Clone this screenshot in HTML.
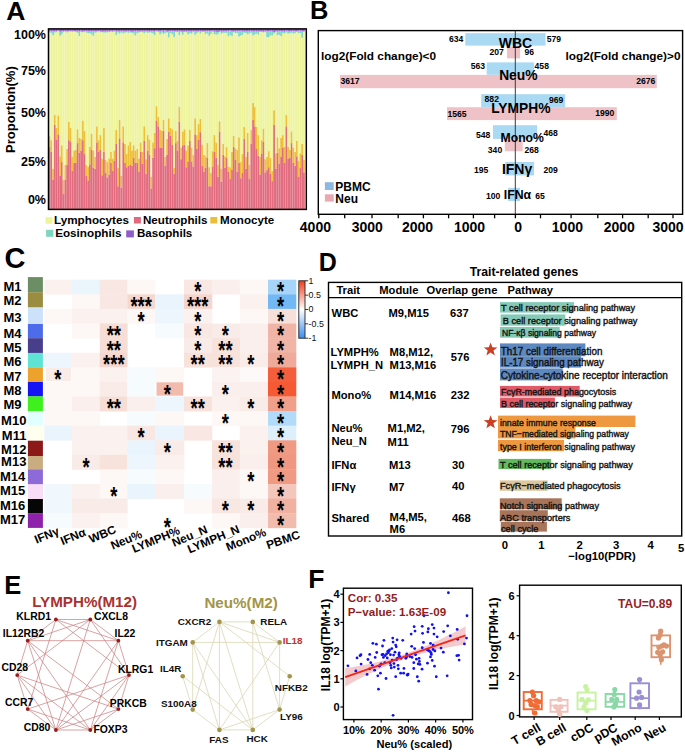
<!DOCTYPE html>
<html><head><meta charset="utf-8"><style>html,body{margin:0;padding:0;background:#fff;overflow:hidden;width:685px;height:752px;}svg{display:block;font-family:"Liberation Sans",sans-serif;}</style></head><body>
<svg width="685" height="752" viewBox="0 0 685 752">
<text x="6.20" y="20.00" font-size="26.5" font-weight="bold" text-anchor="start" fill="#000">A</text>
<rect x="48.70" y="146.76" width="1.80" height="62.64" fill="#E26A7E"/>
<rect x="48.70" y="136.24" width="1.80" height="10.52" fill="#EDBE37"/>
<rect x="48.70" y="32.33" width="1.80" height="103.92" fill="#EEF49C"/>
<rect x="48.70" y="31.35" width="1.80" height="0.97" fill="#7ED5CC"/>
<rect x="48.70" y="28.90" width="1.80" height="2.45" fill="#9A62C8"/>
<rect x="50.45" y="151.88" width="1.80" height="57.52" fill="#E26A7E"/>
<rect x="50.45" y="140.19" width="1.80" height="11.69" fill="#EDBE37"/>
<rect x="50.45" y="33.02" width="1.80" height="107.17" fill="#EEF49C"/>
<rect x="50.45" y="31.36" width="1.80" height="1.66" fill="#7ED5CC"/>
<rect x="50.45" y="28.90" width="1.80" height="2.46" fill="#9A62C8"/>
<rect x="52.21" y="179.64" width="1.80" height="29.76" fill="#E26A7E"/>
<rect x="52.21" y="168.68" width="1.80" height="10.96" fill="#EDBE37"/>
<rect x="52.21" y="35.28" width="1.80" height="133.40" fill="#EEF49C"/>
<rect x="52.21" y="31.33" width="1.80" height="3.96" fill="#7ED5CC"/>
<rect x="52.21" y="28.90" width="1.80" height="2.43" fill="#9A62C8"/>
<rect x="53.96" y="124.84" width="1.80" height="84.56" fill="#E26A7E"/>
<rect x="53.96" y="114.61" width="1.80" height="10.23" fill="#EDBE37"/>
<rect x="53.96" y="32.55" width="1.80" height="82.06" fill="#EEF49C"/>
<rect x="53.96" y="31.26" width="1.80" height="1.30" fill="#7ED5CC"/>
<rect x="53.96" y="28.90" width="1.80" height="2.36" fill="#9A62C8"/>
<rect x="55.72" y="139.46" width="1.80" height="69.94" fill="#E26A7E"/>
<rect x="55.72" y="127.77" width="1.80" height="11.69" fill="#EDBE37"/>
<rect x="55.72" y="32.28" width="1.80" height="95.48" fill="#EEF49C"/>
<rect x="55.72" y="31.06" width="1.80" height="1.22" fill="#7ED5CC"/>
<rect x="55.72" y="28.90" width="1.80" height="2.16" fill="#9A62C8"/>
<rect x="57.47" y="134.34" width="1.80" height="75.06" fill="#E26A7E"/>
<rect x="57.47" y="115.34" width="1.80" height="19.00" fill="#EDBE37"/>
<rect x="57.47" y="31.18" width="1.80" height="84.17" fill="#EEF49C"/>
<rect x="57.47" y="30.68" width="1.80" height="0.50" fill="#7ED5CC"/>
<rect x="57.47" y="28.90" width="1.80" height="1.78" fill="#9A62C8"/>
<rect x="59.22" y="175.99" width="1.80" height="33.41" fill="#E26A7E"/>
<rect x="59.22" y="156.26" width="1.80" height="19.73" fill="#EDBE37"/>
<rect x="59.22" y="35.77" width="1.80" height="120.49" fill="#EEF49C"/>
<rect x="59.22" y="31.70" width="1.80" height="4.08" fill="#7ED5CC"/>
<rect x="59.22" y="28.90" width="1.80" height="2.80" fill="#9A62C8"/>
<rect x="60.98" y="162.11" width="1.80" height="47.29" fill="#E26A7E"/>
<rect x="60.98" y="145.30" width="1.80" height="16.81" fill="#EDBE37"/>
<rect x="60.98" y="34.32" width="1.80" height="110.98" fill="#EEF49C"/>
<rect x="60.98" y="31.36" width="1.80" height="2.96" fill="#7ED5CC"/>
<rect x="60.98" y="28.90" width="1.80" height="2.46" fill="#9A62C8"/>
<rect x="62.73" y="193.53" width="1.80" height="15.87" fill="#E26A7E"/>
<rect x="62.73" y="180.08" width="1.80" height="13.44" fill="#EDBE37"/>
<rect x="62.73" y="32.25" width="1.80" height="147.83" fill="#EEF49C"/>
<rect x="62.73" y="31.03" width="1.80" height="1.23" fill="#7ED5CC"/>
<rect x="62.73" y="28.90" width="1.80" height="2.13" fill="#9A62C8"/>
<rect x="64.49" y="179.64" width="1.80" height="29.76" fill="#E26A7E"/>
<rect x="64.49" y="165.03" width="1.80" height="14.61" fill="#EDBE37"/>
<rect x="64.49" y="31.77" width="1.80" height="133.26" fill="#EEF49C"/>
<rect x="64.49" y="30.98" width="1.80" height="0.79" fill="#7ED5CC"/>
<rect x="64.49" y="28.90" width="1.80" height="2.08" fill="#9A62C8"/>
<rect x="66.24" y="165.03" width="1.80" height="44.37" fill="#E26A7E"/>
<rect x="66.24" y="148.96" width="1.80" height="16.07" fill="#EDBE37"/>
<rect x="66.24" y="32.50" width="1.80" height="116.45" fill="#EEF49C"/>
<rect x="66.24" y="31.24" width="1.80" height="1.26" fill="#7ED5CC"/>
<rect x="66.24" y="28.90" width="1.80" height="2.34" fill="#9A62C8"/>
<rect x="67.99" y="140.19" width="1.80" height="69.21" fill="#E26A7E"/>
<rect x="67.99" y="121.63" width="1.80" height="18.56" fill="#EDBE37"/>
<rect x="67.99" y="31.79" width="1.80" height="89.84" fill="#EEF49C"/>
<rect x="67.99" y="30.91" width="1.80" height="0.88" fill="#7ED5CC"/>
<rect x="67.99" y="28.90" width="1.80" height="2.01" fill="#9A62C8"/>
<rect x="69.75" y="141.65" width="1.80" height="67.75" fill="#E26A7E"/>
<rect x="69.75" y="127.77" width="1.80" height="13.88" fill="#EDBE37"/>
<rect x="69.75" y="31.66" width="1.80" height="96.11" fill="#EEF49C"/>
<rect x="69.75" y="31.03" width="1.80" height="0.63" fill="#7ED5CC"/>
<rect x="69.75" y="28.90" width="1.80" height="2.13" fill="#9A62C8"/>
<rect x="71.50" y="170.88" width="1.80" height="38.52" fill="#E26A7E"/>
<rect x="71.50" y="156.99" width="1.80" height="13.88" fill="#EDBE37"/>
<rect x="71.50" y="32.07" width="1.80" height="124.93" fill="#EEF49C"/>
<rect x="71.50" y="30.75" width="1.80" height="1.31" fill="#7ED5CC"/>
<rect x="71.50" y="28.90" width="1.80" height="1.85" fill="#9A62C8"/>
<rect x="73.26" y="162.84" width="1.80" height="46.56" fill="#E26A7E"/>
<rect x="73.26" y="150.42" width="1.80" height="12.42" fill="#EDBE37"/>
<rect x="73.26" y="31.59" width="1.80" height="118.83" fill="#EEF49C"/>
<rect x="73.26" y="31.03" width="1.80" height="0.56" fill="#7ED5CC"/>
<rect x="73.26" y="28.90" width="1.80" height="2.13" fill="#9A62C8"/>
<rect x="75.01" y="162.84" width="1.80" height="46.56" fill="#E26A7E"/>
<rect x="75.01" y="149.69" width="1.80" height="13.15" fill="#EDBE37"/>
<rect x="75.01" y="32.00" width="1.80" height="117.68" fill="#EEF49C"/>
<rect x="75.01" y="30.95" width="1.80" height="1.05" fill="#7ED5CC"/>
<rect x="75.01" y="28.90" width="1.80" height="2.05" fill="#9A62C8"/>
<rect x="76.76" y="143.11" width="1.80" height="66.29" fill="#E26A7E"/>
<rect x="76.76" y="129.23" width="1.80" height="13.88" fill="#EDBE37"/>
<rect x="76.76" y="32.89" width="1.80" height="96.33" fill="#EEF49C"/>
<rect x="76.76" y="31.41" width="1.80" height="1.48" fill="#7ED5CC"/>
<rect x="76.76" y="28.90" width="1.80" height="2.51" fill="#9A62C8"/>
<rect x="78.52" y="152.61" width="1.80" height="56.79" fill="#E26A7E"/>
<rect x="78.52" y="138.00" width="1.80" height="14.61" fill="#EDBE37"/>
<rect x="78.52" y="35.92" width="1.80" height="102.07" fill="#EEF49C"/>
<rect x="78.52" y="31.48" width="1.80" height="4.44" fill="#7ED5CC"/>
<rect x="78.52" y="28.90" width="1.80" height="2.58" fill="#9A62C8"/>
<rect x="80.27" y="150.42" width="1.80" height="58.98" fill="#E26A7E"/>
<rect x="80.27" y="138.73" width="1.80" height="11.69" fill="#EDBE37"/>
<rect x="80.27" y="31.97" width="1.80" height="106.76" fill="#EEF49C"/>
<rect x="80.27" y="30.81" width="1.80" height="1.16" fill="#7ED5CC"/>
<rect x="80.27" y="28.90" width="1.80" height="1.91" fill="#9A62C8"/>
<rect x="82.03" y="140.19" width="1.80" height="69.21" fill="#E26A7E"/>
<rect x="82.03" y="120.46" width="1.80" height="19.73" fill="#EDBE37"/>
<rect x="82.03" y="32.43" width="1.80" height="88.03" fill="#EEF49C"/>
<rect x="82.03" y="31.63" width="1.80" height="0.80" fill="#7ED5CC"/>
<rect x="82.03" y="28.90" width="1.80" height="2.73" fill="#9A62C8"/>
<rect x="83.78" y="154.07" width="1.80" height="55.33" fill="#E26A7E"/>
<rect x="83.78" y="130.69" width="1.80" height="23.38" fill="#EDBE37"/>
<rect x="83.78" y="31.66" width="1.80" height="99.03" fill="#EEF49C"/>
<rect x="83.78" y="31.04" width="1.80" height="0.62" fill="#7ED5CC"/>
<rect x="83.78" y="28.90" width="1.80" height="2.14" fill="#9A62C8"/>
<rect x="85.53" y="175.99" width="1.80" height="33.41" fill="#E26A7E"/>
<rect x="85.53" y="165.03" width="1.80" height="10.96" fill="#EDBE37"/>
<rect x="85.53" y="32.72" width="1.80" height="132.31" fill="#EEF49C"/>
<rect x="85.53" y="31.08" width="1.80" height="1.63" fill="#7ED5CC"/>
<rect x="85.53" y="28.90" width="1.80" height="2.18" fill="#9A62C8"/>
<rect x="87.29" y="180.37" width="1.80" height="29.03" fill="#E26A7E"/>
<rect x="87.29" y="166.49" width="1.80" height="13.88" fill="#EDBE37"/>
<rect x="87.29" y="33.20" width="1.80" height="133.30" fill="#EEF49C"/>
<rect x="87.29" y="31.37" width="1.80" height="1.82" fill="#7ED5CC"/>
<rect x="87.29" y="28.90" width="1.80" height="2.47" fill="#9A62C8"/>
<rect x="89.04" y="164.30" width="1.80" height="45.10" fill="#E26A7E"/>
<rect x="89.04" y="146.76" width="1.80" height="17.54" fill="#EDBE37"/>
<rect x="89.04" y="33.20" width="1.80" height="113.56" fill="#EEF49C"/>
<rect x="89.04" y="31.18" width="1.80" height="2.03" fill="#7ED5CC"/>
<rect x="89.04" y="28.90" width="1.80" height="2.28" fill="#9A62C8"/>
<rect x="90.80" y="149.69" width="1.80" height="59.71" fill="#E26A7E"/>
<rect x="90.80" y="133.61" width="1.80" height="16.07" fill="#EDBE37"/>
<rect x="90.80" y="34.42" width="1.80" height="99.19" fill="#EEF49C"/>
<rect x="90.80" y="31.49" width="1.80" height="2.93" fill="#7ED5CC"/>
<rect x="90.80" y="28.90" width="1.80" height="2.59" fill="#9A62C8"/>
<rect x="92.55" y="167.95" width="1.80" height="41.45" fill="#E26A7E"/>
<rect x="92.55" y="150.42" width="1.80" height="17.54" fill="#EDBE37"/>
<rect x="92.55" y="35.86" width="1.80" height="114.56" fill="#EEF49C"/>
<rect x="92.55" y="31.33" width="1.80" height="4.53" fill="#7ED5CC"/>
<rect x="92.55" y="28.90" width="1.80" height="2.43" fill="#9A62C8"/>
<rect x="94.30" y="168.68" width="1.80" height="40.72" fill="#E26A7E"/>
<rect x="94.30" y="156.99" width="1.80" height="11.69" fill="#EDBE37"/>
<rect x="94.30" y="32.72" width="1.80" height="124.27" fill="#EEF49C"/>
<rect x="94.30" y="31.36" width="1.80" height="1.36" fill="#7ED5CC"/>
<rect x="94.30" y="28.90" width="1.80" height="2.46" fill="#9A62C8"/>
<rect x="96.06" y="142.38" width="1.80" height="67.02" fill="#E26A7E"/>
<rect x="96.06" y="126.30" width="1.80" height="16.07" fill="#EDBE37"/>
<rect x="96.06" y="32.35" width="1.80" height="93.95" fill="#EEF49C"/>
<rect x="96.06" y="31.11" width="1.80" height="1.24" fill="#7ED5CC"/>
<rect x="96.06" y="28.90" width="1.80" height="2.21" fill="#9A62C8"/>
<rect x="97.81" y="151.88" width="1.80" height="57.52" fill="#E26A7E"/>
<rect x="97.81" y="140.19" width="1.80" height="11.69" fill="#EDBE37"/>
<rect x="97.81" y="31.51" width="1.80" height="108.68" fill="#EEF49C"/>
<rect x="97.81" y="31.01" width="1.80" height="0.50" fill="#7ED5CC"/>
<rect x="97.81" y="28.90" width="1.80" height="2.11" fill="#9A62C8"/>
<rect x="99.57" y="149.69" width="1.80" height="59.71" fill="#E26A7E"/>
<rect x="99.57" y="135.07" width="1.80" height="14.61" fill="#EDBE37"/>
<rect x="99.57" y="32.38" width="1.80" height="102.69" fill="#EEF49C"/>
<rect x="99.57" y="31.02" width="1.80" height="1.37" fill="#7ED5CC"/>
<rect x="99.57" y="28.90" width="1.80" height="2.12" fill="#9A62C8"/>
<rect x="101.32" y="175.26" width="1.80" height="34.14" fill="#E26A7E"/>
<rect x="101.32" y="158.45" width="1.80" height="16.81" fill="#EDBE37"/>
<rect x="101.32" y="32.18" width="1.80" height="126.27" fill="#EEF49C"/>
<rect x="101.32" y="31.68" width="1.80" height="0.50" fill="#7ED5CC"/>
<rect x="101.32" y="28.90" width="1.80" height="2.78" fill="#9A62C8"/>
<rect x="103.07" y="151.88" width="1.80" height="57.52" fill="#E26A7E"/>
<rect x="103.07" y="127.77" width="1.80" height="24.11" fill="#EDBE37"/>
<rect x="103.07" y="32.63" width="1.80" height="95.13" fill="#EEF49C"/>
<rect x="103.07" y="31.35" width="1.80" height="1.28" fill="#7ED5CC"/>
<rect x="103.07" y="28.90" width="1.80" height="2.45" fill="#9A62C8"/>
<rect x="104.83" y="173.07" width="1.80" height="36.33" fill="#E26A7E"/>
<rect x="104.83" y="159.92" width="1.80" height="13.15" fill="#EDBE37"/>
<rect x="104.83" y="32.70" width="1.80" height="127.21" fill="#EEF49C"/>
<rect x="104.83" y="31.54" width="1.80" height="1.16" fill="#7ED5CC"/>
<rect x="104.83" y="28.90" width="1.80" height="2.64" fill="#9A62C8"/>
<rect x="106.58" y="177.45" width="1.80" height="31.95" fill="#E26A7E"/>
<rect x="106.58" y="162.11" width="1.80" height="15.34" fill="#EDBE37"/>
<rect x="106.58" y="32.32" width="1.80" height="129.78" fill="#EEF49C"/>
<rect x="106.58" y="31.23" width="1.80" height="1.10" fill="#7ED5CC"/>
<rect x="106.58" y="28.90" width="1.80" height="2.33" fill="#9A62C8"/>
<rect x="108.34" y="174.53" width="1.80" height="34.87" fill="#E26A7E"/>
<rect x="108.34" y="158.45" width="1.80" height="16.07" fill="#EDBE37"/>
<rect x="108.34" y="32.14" width="1.80" height="126.31" fill="#EEF49C"/>
<rect x="108.34" y="31.48" width="1.80" height="0.66" fill="#7ED5CC"/>
<rect x="108.34" y="28.90" width="1.80" height="2.58" fill="#9A62C8"/>
<rect x="110.09" y="162.84" width="1.80" height="46.56" fill="#E26A7E"/>
<rect x="110.09" y="151.88" width="1.80" height="10.96" fill="#EDBE37"/>
<rect x="110.09" y="31.74" width="1.80" height="120.13" fill="#EEF49C"/>
<rect x="110.09" y="30.86" width="1.80" height="0.88" fill="#7ED5CC"/>
<rect x="110.09" y="28.90" width="1.80" height="1.96" fill="#9A62C8"/>
<rect x="111.84" y="170.88" width="1.80" height="38.52" fill="#E26A7E"/>
<rect x="111.84" y="158.45" width="1.80" height="12.42" fill="#EDBE37"/>
<rect x="111.84" y="32.14" width="1.80" height="126.32" fill="#EEF49C"/>
<rect x="111.84" y="31.11" width="1.80" height="1.03" fill="#7ED5CC"/>
<rect x="111.84" y="28.90" width="1.80" height="2.21" fill="#9A62C8"/>
<rect x="113.60" y="160.65" width="1.80" height="48.75" fill="#E26A7E"/>
<rect x="113.60" y="150.42" width="1.80" height="10.23" fill="#EDBE37"/>
<rect x="113.60" y="31.89" width="1.80" height="118.53" fill="#EEF49C"/>
<rect x="113.60" y="30.60" width="1.80" height="1.29" fill="#7ED5CC"/>
<rect x="113.60" y="28.90" width="1.80" height="1.70" fill="#9A62C8"/>
<rect x="115.35" y="143.84" width="1.80" height="65.56" fill="#E26A7E"/>
<rect x="115.35" y="129.96" width="1.80" height="13.88" fill="#EDBE37"/>
<rect x="115.35" y="35.00" width="1.80" height="94.96" fill="#EEF49C"/>
<rect x="115.35" y="31.39" width="1.80" height="3.61" fill="#7ED5CC"/>
<rect x="115.35" y="28.90" width="1.80" height="2.49" fill="#9A62C8"/>
<rect x="117.11" y="186.22" width="1.80" height="23.18" fill="#E26A7E"/>
<rect x="117.11" y="167.95" width="1.80" height="18.27" fill="#EDBE37"/>
<rect x="117.11" y="32.52" width="1.80" height="135.44" fill="#EEF49C"/>
<rect x="117.11" y="31.24" width="1.80" height="1.27" fill="#7ED5CC"/>
<rect x="117.11" y="28.90" width="1.80" height="2.34" fill="#9A62C8"/>
<rect x="118.86" y="138.29" width="1.80" height="71.11" fill="#E26A7E"/>
<rect x="118.86" y="119.73" width="1.80" height="18.56" fill="#EDBE37"/>
<rect x="118.86" y="33.77" width="1.80" height="85.96" fill="#EEF49C"/>
<rect x="118.86" y="31.43" width="1.80" height="2.34" fill="#7ED5CC"/>
<rect x="118.86" y="28.90" width="1.80" height="2.53" fill="#9A62C8"/>
<rect x="120.61" y="187.68" width="1.80" height="21.72" fill="#E26A7E"/>
<rect x="120.61" y="175.99" width="1.80" height="11.69" fill="#EDBE37"/>
<rect x="120.61" y="32.55" width="1.80" height="143.44" fill="#EEF49C"/>
<rect x="120.61" y="31.31" width="1.80" height="1.23" fill="#7ED5CC"/>
<rect x="120.61" y="28.90" width="1.80" height="2.41" fill="#9A62C8"/>
<rect x="122.37" y="142.38" width="1.80" height="67.02" fill="#E26A7E"/>
<rect x="122.37" y="126.30" width="1.80" height="16.07" fill="#EDBE37"/>
<rect x="122.37" y="33.40" width="1.80" height="92.90" fill="#EEF49C"/>
<rect x="122.37" y="31.30" width="1.80" height="2.11" fill="#7ED5CC"/>
<rect x="122.37" y="28.90" width="1.80" height="2.40" fill="#9A62C8"/>
<rect x="124.12" y="162.84" width="1.80" height="46.56" fill="#E26A7E"/>
<rect x="124.12" y="143.84" width="1.80" height="19.00" fill="#EDBE37"/>
<rect x="124.12" y="32.71" width="1.80" height="111.13" fill="#EEF49C"/>
<rect x="124.12" y="31.38" width="1.80" height="1.33" fill="#7ED5CC"/>
<rect x="124.12" y="28.90" width="1.80" height="2.48" fill="#9A62C8"/>
<rect x="125.88" y="167.22" width="1.80" height="42.18" fill="#E26A7E"/>
<rect x="125.88" y="154.07" width="1.80" height="13.15" fill="#EDBE37"/>
<rect x="125.88" y="32.25" width="1.80" height="121.82" fill="#EEF49C"/>
<rect x="125.88" y="31.32" width="1.80" height="0.93" fill="#7ED5CC"/>
<rect x="125.88" y="28.90" width="1.80" height="2.42" fill="#9A62C8"/>
<rect x="127.63" y="165.76" width="1.80" height="43.64" fill="#E26A7E"/>
<rect x="127.63" y="145.30" width="1.80" height="20.46" fill="#EDBE37"/>
<rect x="127.63" y="32.84" width="1.80" height="112.46" fill="#EEF49C"/>
<rect x="127.63" y="31.19" width="1.80" height="1.66" fill="#7ED5CC"/>
<rect x="127.63" y="28.90" width="1.80" height="2.29" fill="#9A62C8"/>
<rect x="129.38" y="165.03" width="1.80" height="44.37" fill="#E26A7E"/>
<rect x="129.38" y="141.65" width="1.80" height="23.38" fill="#EDBE37"/>
<rect x="129.38" y="32.57" width="1.80" height="109.08" fill="#EEF49C"/>
<rect x="129.38" y="31.27" width="1.80" height="1.30" fill="#7ED5CC"/>
<rect x="129.38" y="28.90" width="1.80" height="2.37" fill="#9A62C8"/>
<rect x="131.14" y="165.76" width="1.80" height="43.64" fill="#E26A7E"/>
<rect x="131.14" y="150.42" width="1.80" height="15.34" fill="#EDBE37"/>
<rect x="131.14" y="32.77" width="1.80" height="117.64" fill="#EEF49C"/>
<rect x="131.14" y="31.76" width="1.80" height="1.01" fill="#7ED5CC"/>
<rect x="131.14" y="28.90" width="1.80" height="2.86" fill="#9A62C8"/>
<rect x="132.89" y="157.72" width="1.80" height="51.68" fill="#E26A7E"/>
<rect x="132.89" y="145.30" width="1.80" height="12.42" fill="#EDBE37"/>
<rect x="132.89" y="33.62" width="1.80" height="111.68" fill="#EEF49C"/>
<rect x="132.89" y="31.31" width="1.80" height="2.32" fill="#7ED5CC"/>
<rect x="132.89" y="28.90" width="1.80" height="2.41" fill="#9A62C8"/>
<rect x="134.65" y="162.84" width="1.80" height="46.56" fill="#E26A7E"/>
<rect x="134.65" y="150.42" width="1.80" height="12.42" fill="#EDBE37"/>
<rect x="134.65" y="35.56" width="1.80" height="114.85" fill="#EEF49C"/>
<rect x="134.65" y="31.50" width="1.80" height="4.06" fill="#7ED5CC"/>
<rect x="134.65" y="28.90" width="1.80" height="2.60" fill="#9A62C8"/>
<rect x="136.40" y="162.84" width="1.80" height="46.56" fill="#E26A7E"/>
<rect x="136.40" y="148.96" width="1.80" height="13.88" fill="#EDBE37"/>
<rect x="136.40" y="33.21" width="1.80" height="115.75" fill="#EEF49C"/>
<rect x="136.40" y="31.12" width="1.80" height="2.09" fill="#7ED5CC"/>
<rect x="136.40" y="28.90" width="1.80" height="2.22" fill="#9A62C8"/>
<rect x="138.15" y="171.61" width="1.80" height="37.79" fill="#E26A7E"/>
<rect x="138.15" y="158.45" width="1.80" height="13.15" fill="#EDBE37"/>
<rect x="138.15" y="32.55" width="1.80" height="125.90" fill="#EEF49C"/>
<rect x="138.15" y="31.49" width="1.80" height="1.07" fill="#7ED5CC"/>
<rect x="138.15" y="28.90" width="1.80" height="2.59" fill="#9A62C8"/>
<rect x="139.91" y="151.88" width="1.80" height="57.52" fill="#E26A7E"/>
<rect x="139.91" y="142.38" width="1.80" height="9.50" fill="#EDBE37"/>
<rect x="139.91" y="32.02" width="1.80" height="110.36" fill="#EEF49C"/>
<rect x="139.91" y="30.83" width="1.80" height="1.18" fill="#7ED5CC"/>
<rect x="139.91" y="28.90" width="1.80" height="1.93" fill="#9A62C8"/>
<rect x="141.66" y="163.57" width="1.80" height="45.83" fill="#E26A7E"/>
<rect x="141.66" y="151.88" width="1.80" height="11.69" fill="#EDBE37"/>
<rect x="141.66" y="32.32" width="1.80" height="119.56" fill="#EEF49C"/>
<rect x="141.66" y="31.39" width="1.80" height="0.93" fill="#7ED5CC"/>
<rect x="141.66" y="28.90" width="1.80" height="2.49" fill="#9A62C8"/>
<rect x="143.42" y="140.92" width="1.80" height="68.48" fill="#E26A7E"/>
<rect x="143.42" y="126.30" width="1.80" height="14.61" fill="#EDBE37"/>
<rect x="143.42" y="33.22" width="1.80" height="93.09" fill="#EEF49C"/>
<rect x="143.42" y="31.14" width="1.80" height="2.07" fill="#7ED5CC"/>
<rect x="143.42" y="28.90" width="1.80" height="2.24" fill="#9A62C8"/>
<rect x="145.17" y="173.80" width="1.80" height="35.60" fill="#E26A7E"/>
<rect x="145.17" y="159.18" width="1.80" height="14.61" fill="#EDBE37"/>
<rect x="145.17" y="32.19" width="1.80" height="126.99" fill="#EEF49C"/>
<rect x="145.17" y="30.75" width="1.80" height="1.44" fill="#7ED5CC"/>
<rect x="145.17" y="28.90" width="1.80" height="1.85" fill="#9A62C8"/>
<rect x="146.92" y="150.42" width="1.80" height="58.98" fill="#E26A7E"/>
<rect x="146.92" y="135.07" width="1.80" height="15.34" fill="#EDBE37"/>
<rect x="146.92" y="32.89" width="1.80" height="102.19" fill="#EEF49C"/>
<rect x="146.92" y="31.17" width="1.80" height="1.72" fill="#7ED5CC"/>
<rect x="146.92" y="28.90" width="1.80" height="2.27" fill="#9A62C8"/>
<rect x="148.68" y="154.80" width="1.80" height="54.60" fill="#E26A7E"/>
<rect x="148.68" y="139.46" width="1.80" height="15.34" fill="#EDBE37"/>
<rect x="148.68" y="32.46" width="1.80" height="107.00" fill="#EEF49C"/>
<rect x="148.68" y="31.43" width="1.80" height="1.03" fill="#7ED5CC"/>
<rect x="148.68" y="28.90" width="1.80" height="2.53" fill="#9A62C8"/>
<rect x="150.43" y="188.41" width="1.80" height="20.99" fill="#E26A7E"/>
<rect x="150.43" y="176.72" width="1.80" height="11.69" fill="#EDBE37"/>
<rect x="150.43" y="32.74" width="1.80" height="143.98" fill="#EEF49C"/>
<rect x="150.43" y="31.11" width="1.80" height="1.62" fill="#7ED5CC"/>
<rect x="150.43" y="28.90" width="1.80" height="2.21" fill="#9A62C8"/>
<rect x="152.19" y="157.72" width="1.80" height="51.68" fill="#E26A7E"/>
<rect x="152.19" y="142.38" width="1.80" height="15.34" fill="#EDBE37"/>
<rect x="152.19" y="33.49" width="1.80" height="108.89" fill="#EEF49C"/>
<rect x="152.19" y="31.14" width="1.80" height="2.34" fill="#7ED5CC"/>
<rect x="152.19" y="28.90" width="1.80" height="2.24" fill="#9A62C8"/>
<rect x="153.94" y="148.22" width="1.80" height="61.18" fill="#E26A7E"/>
<rect x="153.94" y="132.88" width="1.80" height="15.34" fill="#EDBE37"/>
<rect x="153.94" y="35.05" width="1.80" height="97.83" fill="#EEF49C"/>
<rect x="153.94" y="31.41" width="1.80" height="3.63" fill="#7ED5CC"/>
<rect x="153.94" y="28.90" width="1.80" height="2.51" fill="#9A62C8"/>
<rect x="155.69" y="120.46" width="1.80" height="88.94" fill="#E26A7E"/>
<rect x="155.69" y="106.14" width="1.80" height="14.32" fill="#EDBE37"/>
<rect x="155.69" y="31.55" width="1.80" height="74.59" fill="#EEF49C"/>
<rect x="155.69" y="30.75" width="1.80" height="0.80" fill="#7ED5CC"/>
<rect x="155.69" y="28.90" width="1.80" height="1.85" fill="#9A62C8"/>
<rect x="157.45" y="126.30" width="1.80" height="83.10" fill="#E26A7E"/>
<rect x="157.45" y="116.81" width="1.80" height="9.50" fill="#EDBE37"/>
<rect x="157.45" y="32.06" width="1.80" height="84.75" fill="#EEF49C"/>
<rect x="157.45" y="31.26" width="1.80" height="0.80" fill="#7ED5CC"/>
<rect x="157.45" y="28.90" width="1.80" height="2.36" fill="#9A62C8"/>
<rect x="159.20" y="147.49" width="1.80" height="61.91" fill="#E26A7E"/>
<rect x="159.20" y="129.96" width="1.80" height="17.54" fill="#EDBE37"/>
<rect x="159.20" y="34.36" width="1.80" height="95.59" fill="#EEF49C"/>
<rect x="159.20" y="31.42" width="1.80" height="2.94" fill="#7ED5CC"/>
<rect x="159.20" y="28.90" width="1.80" height="2.52" fill="#9A62C8"/>
<rect x="160.96" y="147.49" width="1.80" height="61.91" fill="#E26A7E"/>
<rect x="160.96" y="130.69" width="1.80" height="16.81" fill="#EDBE37"/>
<rect x="160.96" y="32.81" width="1.80" height="97.88" fill="#EEF49C"/>
<rect x="160.96" y="30.71" width="1.80" height="2.10" fill="#7ED5CC"/>
<rect x="160.96" y="28.90" width="1.80" height="1.81" fill="#9A62C8"/>
<rect x="162.71" y="130.69" width="1.80" height="78.71" fill="#E26A7E"/>
<rect x="162.71" y="119.73" width="1.80" height="10.96" fill="#EDBE37"/>
<rect x="162.71" y="34.17" width="1.80" height="85.56" fill="#EEF49C"/>
<rect x="162.71" y="31.68" width="1.80" height="2.49" fill="#7ED5CC"/>
<rect x="162.71" y="28.90" width="1.80" height="2.78" fill="#9A62C8"/>
<rect x="164.46" y="165.76" width="1.80" height="43.64" fill="#E26A7E"/>
<rect x="164.46" y="156.99" width="1.80" height="8.77" fill="#EDBE37"/>
<rect x="164.46" y="33.15" width="1.80" height="123.84" fill="#EEF49C"/>
<rect x="164.46" y="30.60" width="1.80" height="2.55" fill="#7ED5CC"/>
<rect x="164.46" y="28.90" width="1.80" height="1.70" fill="#9A62C8"/>
<rect x="166.22" y="154.80" width="1.80" height="54.60" fill="#E26A7E"/>
<rect x="166.22" y="138.73" width="1.80" height="16.07" fill="#EDBE37"/>
<rect x="166.22" y="32.42" width="1.80" height="106.30" fill="#EEF49C"/>
<rect x="166.22" y="31.62" width="1.80" height="0.80" fill="#7ED5CC"/>
<rect x="166.22" y="28.90" width="1.80" height="2.72" fill="#9A62C8"/>
<rect x="167.97" y="131.42" width="1.80" height="77.98" fill="#E26A7E"/>
<rect x="167.97" y="118.27" width="1.80" height="13.15" fill="#EDBE37"/>
<rect x="167.97" y="37.53" width="1.80" height="80.74" fill="#EEF49C"/>
<rect x="167.97" y="31.34" width="1.80" height="6.19" fill="#7ED5CC"/>
<rect x="167.97" y="28.90" width="1.80" height="2.44" fill="#9A62C8"/>
<rect x="169.73" y="135.80" width="1.80" height="73.60" fill="#E26A7E"/>
<rect x="169.73" y="127.77" width="1.80" height="8.04" fill="#EDBE37"/>
<rect x="169.73" y="33.02" width="1.80" height="94.75" fill="#EEF49C"/>
<rect x="169.73" y="31.04" width="1.80" height="1.98" fill="#7ED5CC"/>
<rect x="169.73" y="28.90" width="1.80" height="2.14" fill="#9A62C8"/>
<rect x="171.48" y="144.57" width="1.80" height="64.83" fill="#E26A7E"/>
<rect x="171.48" y="129.23" width="1.80" height="15.34" fill="#EDBE37"/>
<rect x="171.48" y="34.25" width="1.80" height="94.97" fill="#EEF49C"/>
<rect x="171.48" y="31.15" width="1.80" height="3.11" fill="#7ED5CC"/>
<rect x="171.48" y="28.90" width="1.80" height="2.25" fill="#9A62C8"/>
<rect x="173.23" y="173.80" width="1.80" height="35.60" fill="#E26A7E"/>
<rect x="173.23" y="167.95" width="1.80" height="5.85" fill="#EDBE37"/>
<rect x="173.23" y="36.90" width="1.80" height="131.06" fill="#EEF49C"/>
<rect x="173.23" y="31.15" width="1.80" height="5.74" fill="#7ED5CC"/>
<rect x="173.23" y="28.90" width="1.80" height="2.25" fill="#9A62C8"/>
<rect x="174.99" y="143.11" width="1.80" height="66.29" fill="#E26A7E"/>
<rect x="174.99" y="130.69" width="1.80" height="12.42" fill="#EDBE37"/>
<rect x="174.99" y="32.05" width="1.80" height="98.63" fill="#EEF49C"/>
<rect x="174.99" y="30.90" width="1.80" height="1.15" fill="#7ED5CC"/>
<rect x="174.99" y="28.90" width="1.80" height="2.00" fill="#9A62C8"/>
<rect x="176.74" y="150.42" width="1.80" height="58.98" fill="#E26A7E"/>
<rect x="176.74" y="140.92" width="1.80" height="9.50" fill="#EDBE37"/>
<rect x="176.74" y="32.25" width="1.80" height="108.67" fill="#EEF49C"/>
<rect x="176.74" y="31.45" width="1.80" height="0.80" fill="#7ED5CC"/>
<rect x="176.74" y="28.90" width="1.80" height="2.55" fill="#9A62C8"/>
<rect x="178.50" y="121.92" width="1.80" height="87.48" fill="#E26A7E"/>
<rect x="178.50" y="106.58" width="1.80" height="15.34" fill="#EDBE37"/>
<rect x="178.50" y="35.23" width="1.80" height="71.35" fill="#EEF49C"/>
<rect x="178.50" y="31.42" width="1.80" height="3.81" fill="#7ED5CC"/>
<rect x="178.50" y="28.90" width="1.80" height="2.52" fill="#9A62C8"/>
<rect x="180.25" y="159.18" width="1.80" height="50.22" fill="#E26A7E"/>
<rect x="180.25" y="147.49" width="1.80" height="11.69" fill="#EDBE37"/>
<rect x="180.25" y="32.28" width="1.80" height="115.21" fill="#EEF49C"/>
<rect x="180.25" y="31.08" width="1.80" height="1.20" fill="#7ED5CC"/>
<rect x="180.25" y="28.90" width="1.80" height="2.18" fill="#9A62C8"/>
<rect x="182.00" y="145.30" width="1.80" height="64.10" fill="#E26A7E"/>
<rect x="182.00" y="131.42" width="1.80" height="13.88" fill="#EDBE37"/>
<rect x="182.00" y="34.83" width="1.80" height="96.59" fill="#EEF49C"/>
<rect x="182.00" y="31.68" width="1.80" height="3.14" fill="#7ED5CC"/>
<rect x="182.00" y="28.90" width="1.80" height="2.78" fill="#9A62C8"/>
<rect x="183.76" y="144.57" width="1.80" height="64.83" fill="#E26A7E"/>
<rect x="183.76" y="129.23" width="1.80" height="15.34" fill="#EDBE37"/>
<rect x="183.76" y="32.10" width="1.80" height="97.12" fill="#EEF49C"/>
<rect x="183.76" y="31.30" width="1.80" height="0.80" fill="#7ED5CC"/>
<rect x="183.76" y="28.90" width="1.80" height="2.40" fill="#9A62C8"/>
<rect x="185.51" y="167.22" width="1.80" height="42.18" fill="#E26A7E"/>
<rect x="185.51" y="150.42" width="1.80" height="16.81" fill="#EDBE37"/>
<rect x="185.51" y="32.32" width="1.80" height="118.10" fill="#EEF49C"/>
<rect x="185.51" y="31.52" width="1.80" height="0.80" fill="#7ED5CC"/>
<rect x="185.51" y="28.90" width="1.80" height="2.62" fill="#9A62C8"/>
<rect x="187.27" y="161.38" width="1.80" height="48.02" fill="#E26A7E"/>
<rect x="187.27" y="145.30" width="1.80" height="16.07" fill="#EDBE37"/>
<rect x="187.27" y="34.47" width="1.80" height="110.83" fill="#EEF49C"/>
<rect x="187.27" y="31.13" width="1.80" height="3.34" fill="#7ED5CC"/>
<rect x="187.27" y="28.90" width="1.80" height="2.23" fill="#9A62C8"/>
<rect x="189.02" y="140.92" width="1.80" height="68.48" fill="#E26A7E"/>
<rect x="189.02" y="129.96" width="1.80" height="10.96" fill="#EDBE37"/>
<rect x="189.02" y="33.06" width="1.80" height="96.90" fill="#EEF49C"/>
<rect x="189.02" y="31.22" width="1.80" height="1.83" fill="#7ED5CC"/>
<rect x="189.02" y="28.90" width="1.80" height="2.32" fill="#9A62C8"/>
<rect x="190.77" y="161.38" width="1.80" height="48.02" fill="#E26A7E"/>
<rect x="190.77" y="147.49" width="1.80" height="13.88" fill="#EDBE37"/>
<rect x="190.77" y="33.78" width="1.80" height="113.72" fill="#EEF49C"/>
<rect x="190.77" y="31.50" width="1.80" height="2.28" fill="#7ED5CC"/>
<rect x="190.77" y="28.90" width="1.80" height="2.60" fill="#9A62C8"/>
<rect x="192.53" y="166.49" width="1.80" height="42.91" fill="#E26A7E"/>
<rect x="192.53" y="154.80" width="1.80" height="11.69" fill="#EDBE37"/>
<rect x="192.53" y="32.16" width="1.80" height="122.64" fill="#EEF49C"/>
<rect x="192.53" y="31.11" width="1.80" height="1.05" fill="#7ED5CC"/>
<rect x="192.53" y="28.90" width="1.80" height="2.21" fill="#9A62C8"/>
<rect x="194.28" y="134.34" width="1.80" height="75.06" fill="#E26A7E"/>
<rect x="194.28" y="118.27" width="1.80" height="16.07" fill="#EDBE37"/>
<rect x="194.28" y="34.78" width="1.80" height="83.49" fill="#EEF49C"/>
<rect x="194.28" y="31.02" width="1.80" height="3.76" fill="#7ED5CC"/>
<rect x="194.28" y="28.90" width="1.80" height="2.12" fill="#9A62C8"/>
<rect x="196.04" y="148.96" width="1.80" height="60.44" fill="#E26A7E"/>
<rect x="196.04" y="135.07" width="1.80" height="13.88" fill="#EDBE37"/>
<rect x="196.04" y="33.25" width="1.80" height="101.82" fill="#EEF49C"/>
<rect x="196.04" y="31.44" width="1.80" height="1.81" fill="#7ED5CC"/>
<rect x="196.04" y="28.90" width="1.80" height="2.54" fill="#9A62C8"/>
<rect x="197.79" y="139.46" width="1.80" height="69.94" fill="#E26A7E"/>
<rect x="197.79" y="124.11" width="1.80" height="15.34" fill="#EDBE37"/>
<rect x="197.79" y="31.98" width="1.80" height="92.13" fill="#EEF49C"/>
<rect x="197.79" y="31.18" width="1.80" height="0.80" fill="#7ED5CC"/>
<rect x="197.79" y="28.90" width="1.80" height="2.28" fill="#9A62C8"/>
<rect x="199.54" y="132.15" width="1.80" height="77.25" fill="#E26A7E"/>
<rect x="199.54" y="118.71" width="1.80" height="13.44" fill="#EDBE37"/>
<rect x="199.54" y="33.66" width="1.80" height="85.04" fill="#EEF49C"/>
<rect x="199.54" y="31.03" width="1.80" height="2.63" fill="#7ED5CC"/>
<rect x="199.54" y="28.90" width="1.80" height="2.13" fill="#9A62C8"/>
<rect x="201.30" y="165.76" width="1.80" height="43.64" fill="#E26A7E"/>
<rect x="201.30" y="144.57" width="1.80" height="21.19" fill="#EDBE37"/>
<rect x="201.30" y="31.99" width="1.80" height="112.58" fill="#EEF49C"/>
<rect x="201.30" y="31.19" width="1.80" height="0.80" fill="#7ED5CC"/>
<rect x="201.30" y="28.90" width="1.80" height="2.29" fill="#9A62C8"/>
<rect x="203.05" y="171.61" width="1.80" height="37.79" fill="#E26A7E"/>
<rect x="203.05" y="154.80" width="1.80" height="16.81" fill="#EDBE37"/>
<rect x="203.05" y="32.11" width="1.80" height="122.69" fill="#EEF49C"/>
<rect x="203.05" y="31.31" width="1.80" height="0.80" fill="#7ED5CC"/>
<rect x="203.05" y="28.90" width="1.80" height="2.41" fill="#9A62C8"/>
<rect x="204.81" y="167.95" width="1.80" height="41.45" fill="#E26A7E"/>
<rect x="204.81" y="156.26" width="1.80" height="11.69" fill="#EDBE37"/>
<rect x="204.81" y="34.13" width="1.80" height="122.13" fill="#EEF49C"/>
<rect x="204.81" y="31.03" width="1.80" height="3.10" fill="#7ED5CC"/>
<rect x="204.81" y="28.90" width="1.80" height="2.13" fill="#9A62C8"/>
<rect x="206.56" y="157.72" width="1.80" height="51.68" fill="#E26A7E"/>
<rect x="206.56" y="143.11" width="1.80" height="14.61" fill="#EDBE37"/>
<rect x="206.56" y="33.57" width="1.80" height="109.54" fill="#EEF49C"/>
<rect x="206.56" y="31.12" width="1.80" height="2.45" fill="#7ED5CC"/>
<rect x="206.56" y="28.90" width="1.80" height="2.22" fill="#9A62C8"/>
<rect x="208.31" y="186.22" width="1.80" height="23.18" fill="#E26A7E"/>
<rect x="208.31" y="167.22" width="1.80" height="19.00" fill="#EDBE37"/>
<rect x="208.31" y="35.84" width="1.80" height="131.38" fill="#EEF49C"/>
<rect x="208.31" y="31.00" width="1.80" height="4.84" fill="#7ED5CC"/>
<rect x="208.31" y="28.90" width="1.80" height="2.10" fill="#9A62C8"/>
<rect x="210.07" y="186.22" width="1.80" height="23.18" fill="#E26A7E"/>
<rect x="210.07" y="173.07" width="1.80" height="13.15" fill="#EDBE37"/>
<rect x="210.07" y="33.97" width="1.80" height="139.10" fill="#EEF49C"/>
<rect x="210.07" y="31.24" width="1.80" height="2.73" fill="#7ED5CC"/>
<rect x="210.07" y="28.90" width="1.80" height="2.34" fill="#9A62C8"/>
<rect x="211.82" y="166.49" width="1.80" height="42.91" fill="#E26A7E"/>
<rect x="211.82" y="151.15" width="1.80" height="15.34" fill="#EDBE37"/>
<rect x="211.82" y="31.78" width="1.80" height="119.37" fill="#EEF49C"/>
<rect x="211.82" y="30.74" width="1.80" height="1.04" fill="#7ED5CC"/>
<rect x="211.82" y="28.90" width="1.80" height="1.84" fill="#9A62C8"/>
<rect x="213.58" y="151.88" width="1.80" height="57.52" fill="#E26A7E"/>
<rect x="213.58" y="135.07" width="1.80" height="16.81" fill="#EDBE37"/>
<rect x="213.58" y="34.20" width="1.80" height="100.87" fill="#EEF49C"/>
<rect x="213.58" y="31.59" width="1.80" height="2.61" fill="#7ED5CC"/>
<rect x="213.58" y="28.90" width="1.80" height="2.69" fill="#9A62C8"/>
<rect x="215.33" y="157.72" width="1.80" height="51.68" fill="#E26A7E"/>
<rect x="215.33" y="142.38" width="1.80" height="15.34" fill="#EDBE37"/>
<rect x="215.33" y="34.65" width="1.80" height="107.73" fill="#EEF49C"/>
<rect x="215.33" y="31.69" width="1.80" height="2.96" fill="#7ED5CC"/>
<rect x="215.33" y="28.90" width="1.80" height="2.79" fill="#9A62C8"/>
<rect x="217.08" y="176.72" width="1.80" height="32.68" fill="#E26A7E"/>
<rect x="217.08" y="165.03" width="1.80" height="11.69" fill="#EDBE37"/>
<rect x="217.08" y="34.15" width="1.80" height="130.88" fill="#EEF49C"/>
<rect x="217.08" y="31.93" width="1.80" height="2.22" fill="#7ED5CC"/>
<rect x="217.08" y="28.90" width="1.80" height="3.03" fill="#9A62C8"/>
<rect x="218.84" y="131.42" width="1.80" height="77.98" fill="#E26A7E"/>
<rect x="218.84" y="121.19" width="1.80" height="10.23" fill="#EDBE37"/>
<rect x="218.84" y="32.07" width="1.80" height="89.12" fill="#EEF49C"/>
<rect x="218.84" y="31.27" width="1.80" height="0.80" fill="#7ED5CC"/>
<rect x="218.84" y="28.90" width="1.80" height="2.37" fill="#9A62C8"/>
<rect x="220.59" y="181.84" width="1.80" height="27.56" fill="#E26A7E"/>
<rect x="220.59" y="168.68" width="1.80" height="13.15" fill="#EDBE37"/>
<rect x="220.59" y="33.78" width="1.80" height="134.91" fill="#EEF49C"/>
<rect x="220.59" y="31.47" width="1.80" height="2.31" fill="#7ED5CC"/>
<rect x="220.59" y="28.90" width="1.80" height="2.57" fill="#9A62C8"/>
<rect x="222.35" y="154.80" width="1.80" height="54.60" fill="#E26A7E"/>
<rect x="222.35" y="143.84" width="1.80" height="10.96" fill="#EDBE37"/>
<rect x="222.35" y="32.85" width="1.80" height="110.99" fill="#EEF49C"/>
<rect x="222.35" y="31.37" width="1.80" height="1.48" fill="#7ED5CC"/>
<rect x="222.35" y="28.90" width="1.80" height="2.47" fill="#9A62C8"/>
<rect x="224.10" y="167.95" width="1.80" height="41.45" fill="#E26A7E"/>
<rect x="224.10" y="156.26" width="1.80" height="11.69" fill="#EDBE37"/>
<rect x="224.10" y="32.91" width="1.80" height="123.35" fill="#EEF49C"/>
<rect x="224.10" y="31.14" width="1.80" height="1.77" fill="#7ED5CC"/>
<rect x="224.10" y="28.90" width="1.80" height="2.24" fill="#9A62C8"/>
<rect x="225.85" y="157.72" width="1.80" height="51.68" fill="#E26A7E"/>
<rect x="225.85" y="146.76" width="1.80" height="10.96" fill="#EDBE37"/>
<rect x="225.85" y="32.86" width="1.80" height="113.90" fill="#EEF49C"/>
<rect x="225.85" y="31.22" width="1.80" height="1.64" fill="#7ED5CC"/>
<rect x="225.85" y="28.90" width="1.80" height="2.32" fill="#9A62C8"/>
<rect x="227.61" y="171.61" width="1.80" height="37.79" fill="#E26A7E"/>
<rect x="227.61" y="166.49" width="1.80" height="5.11" fill="#EDBE37"/>
<rect x="227.61" y="36.43" width="1.80" height="130.06" fill="#EEF49C"/>
<rect x="227.61" y="30.95" width="1.80" height="5.48" fill="#7ED5CC"/>
<rect x="227.61" y="28.90" width="1.80" height="2.05" fill="#9A62C8"/>
<rect x="229.36" y="178.91" width="1.80" height="30.49" fill="#E26A7E"/>
<rect x="229.36" y="167.22" width="1.80" height="11.69" fill="#EDBE37"/>
<rect x="229.36" y="34.90" width="1.80" height="132.32" fill="#EEF49C"/>
<rect x="229.36" y="30.60" width="1.80" height="4.30" fill="#7ED5CC"/>
<rect x="229.36" y="28.90" width="1.80" height="1.70" fill="#9A62C8"/>
<rect x="231.12" y="169.41" width="1.80" height="39.99" fill="#E26A7E"/>
<rect x="231.12" y="151.88" width="1.80" height="17.54" fill="#EDBE37"/>
<rect x="231.12" y="36.10" width="1.80" height="115.78" fill="#EEF49C"/>
<rect x="231.12" y="31.33" width="1.80" height="4.77" fill="#7ED5CC"/>
<rect x="231.12" y="28.90" width="1.80" height="2.43" fill="#9A62C8"/>
<rect x="232.87" y="146.76" width="1.80" height="62.64" fill="#E26A7E"/>
<rect x="232.87" y="135.80" width="1.80" height="10.96" fill="#EDBE37"/>
<rect x="232.87" y="32.31" width="1.80" height="103.49" fill="#EEF49C"/>
<rect x="232.87" y="31.51" width="1.80" height="0.80" fill="#7ED5CC"/>
<rect x="232.87" y="28.90" width="1.80" height="2.61" fill="#9A62C8"/>
<rect x="234.62" y="159.92" width="1.80" height="49.48" fill="#E26A7E"/>
<rect x="234.62" y="148.22" width="1.80" height="11.69" fill="#EDBE37"/>
<rect x="234.62" y="33.14" width="1.80" height="115.08" fill="#EEF49C"/>
<rect x="234.62" y="31.37" width="1.80" height="1.77" fill="#7ED5CC"/>
<rect x="234.62" y="28.90" width="1.80" height="2.47" fill="#9A62C8"/>
<rect x="236.38" y="171.61" width="1.80" height="37.79" fill="#E26A7E"/>
<rect x="236.38" y="149.69" width="1.80" height="21.92" fill="#EDBE37"/>
<rect x="236.38" y="33.00" width="1.80" height="116.68" fill="#EEF49C"/>
<rect x="236.38" y="31.00" width="1.80" height="2.00" fill="#7ED5CC"/>
<rect x="236.38" y="28.90" width="1.80" height="2.10" fill="#9A62C8"/>
<rect x="238.13" y="162.84" width="1.80" height="46.56" fill="#E26A7E"/>
<rect x="238.13" y="137.26" width="1.80" height="25.57" fill="#EDBE37"/>
<rect x="238.13" y="36.63" width="1.80" height="100.63" fill="#EEF49C"/>
<rect x="238.13" y="30.91" width="1.80" height="5.73" fill="#7ED5CC"/>
<rect x="238.13" y="28.90" width="1.80" height="2.01" fill="#9A62C8"/>
<rect x="239.89" y="178.18" width="1.80" height="31.22" fill="#E26A7E"/>
<rect x="239.89" y="162.11" width="1.80" height="16.07" fill="#EDBE37"/>
<rect x="239.89" y="35.59" width="1.80" height="126.51" fill="#EEF49C"/>
<rect x="239.89" y="30.80" width="1.80" height="4.80" fill="#7ED5CC"/>
<rect x="239.89" y="28.90" width="1.80" height="1.90" fill="#9A62C8"/>
<rect x="241.64" y="173.07" width="1.80" height="36.33" fill="#E26A7E"/>
<rect x="241.64" y="154.07" width="1.80" height="19.00" fill="#EDBE37"/>
<rect x="241.64" y="34.88" width="1.80" height="119.19" fill="#EEF49C"/>
<rect x="241.64" y="31.44" width="1.80" height="3.44" fill="#7ED5CC"/>
<rect x="241.64" y="28.90" width="1.80" height="2.54" fill="#9A62C8"/>
<rect x="243.39" y="138.73" width="1.80" height="70.67" fill="#E26A7E"/>
<rect x="243.39" y="127.03" width="1.80" height="11.69" fill="#EDBE37"/>
<rect x="243.39" y="32.72" width="1.80" height="94.32" fill="#EEF49C"/>
<rect x="243.39" y="31.52" width="1.80" height="1.19" fill="#7ED5CC"/>
<rect x="243.39" y="28.90" width="1.80" height="2.62" fill="#9A62C8"/>
<rect x="245.15" y="168.68" width="1.80" height="40.72" fill="#E26A7E"/>
<rect x="245.15" y="156.99" width="1.80" height="11.69" fill="#EDBE37"/>
<rect x="245.15" y="33.10" width="1.80" height="123.89" fill="#EEF49C"/>
<rect x="245.15" y="31.36" width="1.80" height="1.75" fill="#7ED5CC"/>
<rect x="245.15" y="28.90" width="1.80" height="2.46" fill="#9A62C8"/>
<rect x="246.90" y="151.88" width="1.80" height="57.52" fill="#E26A7E"/>
<rect x="246.90" y="132.88" width="1.80" height="19.00" fill="#EDBE37"/>
<rect x="246.90" y="34.35" width="1.80" height="98.53" fill="#EEF49C"/>
<rect x="246.90" y="31.34" width="1.80" height="3.01" fill="#7ED5CC"/>
<rect x="246.90" y="28.90" width="1.80" height="2.44" fill="#9A62C8"/>
<rect x="248.66" y="178.91" width="1.80" height="30.49" fill="#E26A7E"/>
<rect x="248.66" y="165.03" width="1.80" height="13.88" fill="#EDBE37"/>
<rect x="248.66" y="33.48" width="1.80" height="131.55" fill="#EEF49C"/>
<rect x="248.66" y="31.45" width="1.80" height="2.03" fill="#7ED5CC"/>
<rect x="248.66" y="28.90" width="1.80" height="2.55" fill="#9A62C8"/>
<rect x="250.41" y="143.84" width="1.80" height="65.56" fill="#E26A7E"/>
<rect x="250.41" y="129.96" width="1.80" height="13.88" fill="#EDBE37"/>
<rect x="250.41" y="32.80" width="1.80" height="97.16" fill="#EEF49C"/>
<rect x="250.41" y="30.95" width="1.80" height="1.84" fill="#7ED5CC"/>
<rect x="250.41" y="28.90" width="1.80" height="2.05" fill="#9A62C8"/>
<rect x="252.16" y="119.73" width="1.80" height="89.67" fill="#E26A7E"/>
<rect x="252.16" y="102.92" width="1.80" height="16.81" fill="#EDBE37"/>
<rect x="252.16" y="35.49" width="1.80" height="67.43" fill="#EEF49C"/>
<rect x="252.16" y="31.45" width="1.80" height="4.04" fill="#7ED5CC"/>
<rect x="252.16" y="28.90" width="1.80" height="2.55" fill="#9A62C8"/>
<rect x="253.92" y="126.30" width="1.80" height="83.10" fill="#E26A7E"/>
<rect x="253.92" y="106.58" width="1.80" height="19.73" fill="#EDBE37"/>
<rect x="253.92" y="34.50" width="1.80" height="72.07" fill="#EEF49C"/>
<rect x="253.92" y="31.25" width="1.80" height="3.26" fill="#7ED5CC"/>
<rect x="253.92" y="28.90" width="1.80" height="2.35" fill="#9A62C8"/>
<rect x="255.67" y="148.96" width="1.80" height="60.44" fill="#E26A7E"/>
<rect x="255.67" y="127.03" width="1.80" height="21.92" fill="#EDBE37"/>
<rect x="255.67" y="33.70" width="1.80" height="93.34" fill="#EEF49C"/>
<rect x="255.67" y="31.52" width="1.80" height="2.18" fill="#7ED5CC"/>
<rect x="255.67" y="28.90" width="1.80" height="2.62" fill="#9A62C8"/>
<rect x="257.43" y="155.53" width="1.80" height="53.87" fill="#E26A7E"/>
<rect x="257.43" y="135.07" width="1.80" height="20.46" fill="#EDBE37"/>
<rect x="257.43" y="34.65" width="1.80" height="100.42" fill="#EEF49C"/>
<rect x="257.43" y="31.54" width="1.80" height="3.11" fill="#7ED5CC"/>
<rect x="257.43" y="28.90" width="1.80" height="2.64" fill="#9A62C8"/>
<rect x="259.18" y="174.53" width="1.80" height="34.87" fill="#E26A7E"/>
<rect x="259.18" y="156.99" width="1.80" height="17.54" fill="#EDBE37"/>
<rect x="259.18" y="32.02" width="1.80" height="124.97" fill="#EEF49C"/>
<rect x="259.18" y="31.22" width="1.80" height="0.80" fill="#7ED5CC"/>
<rect x="259.18" y="28.90" width="1.80" height="2.32" fill="#9A62C8"/>
<rect x="260.93" y="153.34" width="1.80" height="56.06" fill="#E26A7E"/>
<rect x="260.93" y="140.19" width="1.80" height="13.15" fill="#EDBE37"/>
<rect x="260.93" y="31.98" width="1.80" height="108.21" fill="#EEF49C"/>
<rect x="260.93" y="31.18" width="1.80" height="0.80" fill="#7ED5CC"/>
<rect x="260.93" y="28.90" width="1.80" height="2.28" fill="#9A62C8"/>
<rect x="262.69" y="141.65" width="1.80" height="67.75" fill="#E26A7E"/>
<rect x="262.69" y="128.50" width="1.80" height="13.15" fill="#EDBE37"/>
<rect x="262.69" y="32.54" width="1.80" height="95.96" fill="#EEF49C"/>
<rect x="262.69" y="31.67" width="1.80" height="0.86" fill="#7ED5CC"/>
<rect x="262.69" y="28.90" width="1.80" height="2.77" fill="#9A62C8"/>
<rect x="264.44" y="172.34" width="1.80" height="37.06" fill="#E26A7E"/>
<rect x="264.44" y="159.18" width="1.80" height="13.15" fill="#EDBE37"/>
<rect x="264.44" y="32.17" width="1.80" height="127.02" fill="#EEF49C"/>
<rect x="264.44" y="30.97" width="1.80" height="1.20" fill="#7ED5CC"/>
<rect x="264.44" y="28.90" width="1.80" height="2.07" fill="#9A62C8"/>
<rect x="266.20" y="170.14" width="1.80" height="39.26" fill="#E26A7E"/>
<rect x="266.20" y="156.99" width="1.80" height="13.15" fill="#EDBE37"/>
<rect x="266.20" y="37.09" width="1.80" height="119.90" fill="#EEF49C"/>
<rect x="266.20" y="31.25" width="1.80" height="5.84" fill="#7ED5CC"/>
<rect x="266.20" y="28.90" width="1.80" height="2.35" fill="#9A62C8"/>
<rect x="267.95" y="167.22" width="1.80" height="42.18" fill="#E26A7E"/>
<rect x="267.95" y="151.15" width="1.80" height="16.07" fill="#EDBE37"/>
<rect x="267.95" y="37.10" width="1.80" height="114.04" fill="#EEF49C"/>
<rect x="267.95" y="31.38" width="1.80" height="5.73" fill="#7ED5CC"/>
<rect x="267.95" y="28.90" width="1.80" height="2.48" fill="#9A62C8"/>
<rect x="269.70" y="173.80" width="1.80" height="35.60" fill="#E26A7E"/>
<rect x="269.70" y="157.72" width="1.80" height="16.07" fill="#EDBE37"/>
<rect x="269.70" y="35.44" width="1.80" height="122.28" fill="#EEF49C"/>
<rect x="269.70" y="30.88" width="1.80" height="4.57" fill="#7ED5CC"/>
<rect x="269.70" y="28.90" width="1.80" height="1.98" fill="#9A62C8"/>
<rect x="271.46" y="181.10" width="1.80" height="28.30" fill="#E26A7E"/>
<rect x="271.46" y="170.88" width="1.80" height="10.23" fill="#EDBE37"/>
<rect x="271.46" y="35.61" width="1.80" height="135.26" fill="#EEF49C"/>
<rect x="271.46" y="31.52" width="1.80" height="4.09" fill="#7ED5CC"/>
<rect x="271.46" y="28.90" width="1.80" height="2.62" fill="#9A62C8"/>
<rect x="273.21" y="124.84" width="1.80" height="84.56" fill="#E26A7E"/>
<rect x="273.21" y="110.23" width="1.80" height="14.61" fill="#EDBE37"/>
<rect x="273.21" y="33.57" width="1.80" height="76.66" fill="#EEF49C"/>
<rect x="273.21" y="31.96" width="1.80" height="1.61" fill="#7ED5CC"/>
<rect x="273.21" y="28.90" width="1.80" height="3.06" fill="#9A62C8"/>
<rect x="274.97" y="168.68" width="1.80" height="40.72" fill="#E26A7E"/>
<rect x="274.97" y="153.34" width="1.80" height="15.34" fill="#EDBE37"/>
<rect x="274.97" y="32.29" width="1.80" height="121.05" fill="#EEF49C"/>
<rect x="274.97" y="31.13" width="1.80" height="1.16" fill="#7ED5CC"/>
<rect x="274.97" y="28.90" width="1.80" height="2.23" fill="#9A62C8"/>
<rect x="276.72" y="152.61" width="1.80" height="56.79" fill="#E26A7E"/>
<rect x="276.72" y="137.26" width="1.80" height="15.34" fill="#EDBE37"/>
<rect x="276.72" y="35.29" width="1.80" height="101.98" fill="#EEF49C"/>
<rect x="276.72" y="31.46" width="1.80" height="3.83" fill="#7ED5CC"/>
<rect x="276.72" y="28.90" width="1.80" height="2.56" fill="#9A62C8"/>
<rect x="278.47" y="163.57" width="1.80" height="45.83" fill="#E26A7E"/>
<rect x="278.47" y="148.22" width="1.80" height="15.34" fill="#EDBE37"/>
<rect x="278.47" y="34.82" width="1.80" height="113.40" fill="#EEF49C"/>
<rect x="278.47" y="31.26" width="1.80" height="3.57" fill="#7ED5CC"/>
<rect x="278.47" y="28.90" width="1.80" height="2.36" fill="#9A62C8"/>
<rect x="280.23" y="156.99" width="1.80" height="52.41" fill="#E26A7E"/>
<rect x="280.23" y="138.00" width="1.80" height="19.00" fill="#EDBE37"/>
<rect x="280.23" y="36.11" width="1.80" height="101.88" fill="#EEF49C"/>
<rect x="280.23" y="31.21" width="1.80" height="4.90" fill="#7ED5CC"/>
<rect x="280.23" y="28.90" width="1.80" height="2.31" fill="#9A62C8"/>
<rect x="281.98" y="147.49" width="1.80" height="61.91" fill="#E26A7E"/>
<rect x="281.98" y="135.07" width="1.80" height="12.42" fill="#EDBE37"/>
<rect x="281.98" y="33.20" width="1.80" height="101.87" fill="#EEF49C"/>
<rect x="281.98" y="31.22" width="1.80" height="1.99" fill="#7ED5CC"/>
<rect x="281.98" y="28.90" width="1.80" height="2.32" fill="#9A62C8"/>
<rect x="283.74" y="162.84" width="1.80" height="46.56" fill="#E26A7E"/>
<rect x="283.74" y="146.76" width="1.80" height="16.07" fill="#EDBE37"/>
<rect x="283.74" y="33.52" width="1.80" height="113.24" fill="#EEF49C"/>
<rect x="283.74" y="31.60" width="1.80" height="1.93" fill="#7ED5CC"/>
<rect x="283.74" y="28.90" width="1.80" height="2.70" fill="#9A62C8"/>
<rect x="285.49" y="126.30" width="1.80" height="83.10" fill="#E26A7E"/>
<rect x="285.49" y="114.61" width="1.80" height="11.69" fill="#EDBE37"/>
<rect x="285.49" y="32.57" width="1.80" height="82.05" fill="#EEF49C"/>
<rect x="285.49" y="30.76" width="1.80" height="1.80" fill="#7ED5CC"/>
<rect x="285.49" y="28.90" width="1.80" height="1.86" fill="#9A62C8"/>
<rect x="287.24" y="158.45" width="1.80" height="50.95" fill="#E26A7E"/>
<rect x="287.24" y="146.76" width="1.80" height="11.69" fill="#EDBE37"/>
<rect x="287.24" y="33.44" width="1.80" height="113.32" fill="#EEF49C"/>
<rect x="287.24" y="30.99" width="1.80" height="2.45" fill="#7ED5CC"/>
<rect x="287.24" y="28.90" width="1.80" height="2.09" fill="#9A62C8"/>
<rect x="289.00" y="157.72" width="1.80" height="51.68" fill="#E26A7E"/>
<rect x="289.00" y="149.69" width="1.80" height="8.04" fill="#EDBE37"/>
<rect x="289.00" y="33.49" width="1.80" height="116.19" fill="#EEF49C"/>
<rect x="289.00" y="31.18" width="1.80" height="2.31" fill="#7ED5CC"/>
<rect x="289.00" y="28.90" width="1.80" height="2.28" fill="#9A62C8"/>
<rect x="290.75" y="143.11" width="1.80" height="66.29" fill="#E26A7E"/>
<rect x="290.75" y="131.42" width="1.80" height="11.69" fill="#EDBE37"/>
<rect x="290.75" y="32.76" width="1.80" height="98.66" fill="#EEF49C"/>
<rect x="290.75" y="31.13" width="1.80" height="1.63" fill="#7ED5CC"/>
<rect x="290.75" y="28.90" width="1.80" height="2.23" fill="#9A62C8"/>
<rect x="292.51" y="162.84" width="1.80" height="46.56" fill="#E26A7E"/>
<rect x="292.51" y="147.49" width="1.80" height="15.34" fill="#EDBE37"/>
<rect x="292.51" y="33.72" width="1.80" height="113.77" fill="#EEF49C"/>
<rect x="292.51" y="30.94" width="1.80" height="2.78" fill="#7ED5CC"/>
<rect x="292.51" y="28.90" width="1.80" height="2.04" fill="#9A62C8"/>
<rect x="294.26" y="165.76" width="1.80" height="43.64" fill="#E26A7E"/>
<rect x="294.26" y="151.88" width="1.80" height="13.88" fill="#EDBE37"/>
<rect x="294.26" y="33.04" width="1.80" height="118.84" fill="#EEF49C"/>
<rect x="294.26" y="31.05" width="1.80" height="1.99" fill="#7ED5CC"/>
<rect x="294.26" y="28.90" width="1.80" height="2.15" fill="#9A62C8"/>
<rect x="296.01" y="156.26" width="1.80" height="53.14" fill="#E26A7E"/>
<rect x="296.01" y="140.92" width="1.80" height="15.34" fill="#EDBE37"/>
<rect x="296.01" y="31.98" width="1.80" height="108.93" fill="#EEF49C"/>
<rect x="296.01" y="31.18" width="1.80" height="0.80" fill="#7ED5CC"/>
<rect x="296.01" y="28.90" width="1.80" height="2.28" fill="#9A62C8"/>
<rect x="297.77" y="176.72" width="1.80" height="32.68" fill="#E26A7E"/>
<rect x="297.77" y="160.65" width="1.80" height="16.07" fill="#EDBE37"/>
<rect x="297.77" y="33.20" width="1.80" height="127.45" fill="#EEF49C"/>
<rect x="297.77" y="30.85" width="1.80" height="2.35" fill="#7ED5CC"/>
<rect x="297.77" y="28.90" width="1.80" height="1.95" fill="#9A62C8"/>
<rect x="299.52" y="167.95" width="1.80" height="41.45" fill="#E26A7E"/>
<rect x="299.52" y="153.34" width="1.80" height="14.61" fill="#EDBE37"/>
<rect x="299.52" y="33.12" width="1.80" height="120.22" fill="#EEF49C"/>
<rect x="299.52" y="30.78" width="1.80" height="2.34" fill="#7ED5CC"/>
<rect x="299.52" y="28.90" width="1.80" height="1.88" fill="#9A62C8"/>
<rect x="301.28" y="154.80" width="1.80" height="54.60" fill="#E26A7E"/>
<rect x="301.28" y="143.84" width="1.80" height="10.96" fill="#EDBE37"/>
<rect x="301.28" y="37.71" width="1.80" height="106.13" fill="#EEF49C"/>
<rect x="301.28" y="31.41" width="1.80" height="6.30" fill="#7ED5CC"/>
<rect x="301.28" y="28.90" width="1.80" height="2.51" fill="#9A62C8"/>
<rect x="303.03" y="172.34" width="1.80" height="37.06" fill="#E26A7E"/>
<rect x="303.03" y="159.92" width="1.80" height="12.42" fill="#EDBE37"/>
<rect x="303.03" y="31.85" width="1.80" height="128.07" fill="#EEF49C"/>
<rect x="303.03" y="31.05" width="1.80" height="0.80" fill="#7ED5CC"/>
<rect x="303.03" y="28.90" width="1.80" height="2.15" fill="#9A62C8"/>
<line x1="50.45" y1="28.90" x2="50.45" y2="209.40" stroke="#ffffff" stroke-width="0.3" stroke-opacity="0.22"/>
<line x1="52.21" y1="28.90" x2="52.21" y2="209.40" stroke="#ffffff" stroke-width="0.3" stroke-opacity="0.22"/>
<line x1="53.96" y1="28.90" x2="53.96" y2="209.40" stroke="#ffffff" stroke-width="0.3" stroke-opacity="0.22"/>
<line x1="55.72" y1="28.90" x2="55.72" y2="209.40" stroke="#ffffff" stroke-width="0.3" stroke-opacity="0.22"/>
<line x1="57.47" y1="28.90" x2="57.47" y2="209.40" stroke="#ffffff" stroke-width="0.3" stroke-opacity="0.22"/>
<line x1="59.22" y1="28.90" x2="59.22" y2="209.40" stroke="#ffffff" stroke-width="0.3" stroke-opacity="0.22"/>
<line x1="60.98" y1="28.90" x2="60.98" y2="209.40" stroke="#ffffff" stroke-width="0.3" stroke-opacity="0.22"/>
<line x1="62.73" y1="28.90" x2="62.73" y2="209.40" stroke="#ffffff" stroke-width="0.3" stroke-opacity="0.22"/>
<line x1="64.49" y1="28.90" x2="64.49" y2="209.40" stroke="#ffffff" stroke-width="0.3" stroke-opacity="0.22"/>
<line x1="66.24" y1="28.90" x2="66.24" y2="209.40" stroke="#ffffff" stroke-width="0.3" stroke-opacity="0.22"/>
<line x1="67.99" y1="28.90" x2="67.99" y2="209.40" stroke="#ffffff" stroke-width="0.3" stroke-opacity="0.22"/>
<line x1="69.75" y1="28.90" x2="69.75" y2="209.40" stroke="#ffffff" stroke-width="0.3" stroke-opacity="0.22"/>
<line x1="71.50" y1="28.90" x2="71.50" y2="209.40" stroke="#ffffff" stroke-width="0.3" stroke-opacity="0.22"/>
<line x1="73.26" y1="28.90" x2="73.26" y2="209.40" stroke="#ffffff" stroke-width="0.3" stroke-opacity="0.22"/>
<line x1="75.01" y1="28.90" x2="75.01" y2="209.40" stroke="#ffffff" stroke-width="0.3" stroke-opacity="0.22"/>
<line x1="76.76" y1="28.90" x2="76.76" y2="209.40" stroke="#ffffff" stroke-width="0.3" stroke-opacity="0.22"/>
<line x1="78.52" y1="28.90" x2="78.52" y2="209.40" stroke="#ffffff" stroke-width="0.3" stroke-opacity="0.22"/>
<line x1="80.27" y1="28.90" x2="80.27" y2="209.40" stroke="#ffffff" stroke-width="0.3" stroke-opacity="0.22"/>
<line x1="82.03" y1="28.90" x2="82.03" y2="209.40" stroke="#ffffff" stroke-width="0.3" stroke-opacity="0.22"/>
<line x1="83.78" y1="28.90" x2="83.78" y2="209.40" stroke="#ffffff" stroke-width="0.3" stroke-opacity="0.22"/>
<line x1="85.53" y1="28.90" x2="85.53" y2="209.40" stroke="#ffffff" stroke-width="0.3" stroke-opacity="0.22"/>
<line x1="87.29" y1="28.90" x2="87.29" y2="209.40" stroke="#ffffff" stroke-width="0.3" stroke-opacity="0.22"/>
<line x1="89.04" y1="28.90" x2="89.04" y2="209.40" stroke="#ffffff" stroke-width="0.3" stroke-opacity="0.22"/>
<line x1="90.80" y1="28.90" x2="90.80" y2="209.40" stroke="#ffffff" stroke-width="0.3" stroke-opacity="0.22"/>
<line x1="92.55" y1="28.90" x2="92.55" y2="209.40" stroke="#ffffff" stroke-width="0.3" stroke-opacity="0.22"/>
<line x1="94.30" y1="28.90" x2="94.30" y2="209.40" stroke="#ffffff" stroke-width="0.3" stroke-opacity="0.22"/>
<line x1="96.06" y1="28.90" x2="96.06" y2="209.40" stroke="#ffffff" stroke-width="0.3" stroke-opacity="0.22"/>
<line x1="97.81" y1="28.90" x2="97.81" y2="209.40" stroke="#ffffff" stroke-width="0.3" stroke-opacity="0.22"/>
<line x1="99.57" y1="28.90" x2="99.57" y2="209.40" stroke="#ffffff" stroke-width="0.3" stroke-opacity="0.22"/>
<line x1="101.32" y1="28.90" x2="101.32" y2="209.40" stroke="#ffffff" stroke-width="0.3" stroke-opacity="0.22"/>
<line x1="103.07" y1="28.90" x2="103.07" y2="209.40" stroke="#ffffff" stroke-width="0.3" stroke-opacity="0.22"/>
<line x1="104.83" y1="28.90" x2="104.83" y2="209.40" stroke="#ffffff" stroke-width="0.3" stroke-opacity="0.22"/>
<line x1="106.58" y1="28.90" x2="106.58" y2="209.40" stroke="#ffffff" stroke-width="0.3" stroke-opacity="0.22"/>
<line x1="108.34" y1="28.90" x2="108.34" y2="209.40" stroke="#ffffff" stroke-width="0.3" stroke-opacity="0.22"/>
<line x1="110.09" y1="28.90" x2="110.09" y2="209.40" stroke="#ffffff" stroke-width="0.3" stroke-opacity="0.22"/>
<line x1="111.84" y1="28.90" x2="111.84" y2="209.40" stroke="#ffffff" stroke-width="0.3" stroke-opacity="0.22"/>
<line x1="113.60" y1="28.90" x2="113.60" y2="209.40" stroke="#ffffff" stroke-width="0.3" stroke-opacity="0.22"/>
<line x1="115.35" y1="28.90" x2="115.35" y2="209.40" stroke="#ffffff" stroke-width="0.3" stroke-opacity="0.22"/>
<line x1="117.11" y1="28.90" x2="117.11" y2="209.40" stroke="#ffffff" stroke-width="0.3" stroke-opacity="0.22"/>
<line x1="118.86" y1="28.90" x2="118.86" y2="209.40" stroke="#ffffff" stroke-width="0.3" stroke-opacity="0.22"/>
<line x1="120.61" y1="28.90" x2="120.61" y2="209.40" stroke="#ffffff" stroke-width="0.3" stroke-opacity="0.22"/>
<line x1="122.37" y1="28.90" x2="122.37" y2="209.40" stroke="#ffffff" stroke-width="0.3" stroke-opacity="0.22"/>
<line x1="124.12" y1="28.90" x2="124.12" y2="209.40" stroke="#ffffff" stroke-width="0.3" stroke-opacity="0.22"/>
<line x1="125.88" y1="28.90" x2="125.88" y2="209.40" stroke="#ffffff" stroke-width="0.3" stroke-opacity="0.22"/>
<line x1="127.63" y1="28.90" x2="127.63" y2="209.40" stroke="#ffffff" stroke-width="0.3" stroke-opacity="0.22"/>
<line x1="129.38" y1="28.90" x2="129.38" y2="209.40" stroke="#ffffff" stroke-width="0.3" stroke-opacity="0.22"/>
<line x1="131.14" y1="28.90" x2="131.14" y2="209.40" stroke="#ffffff" stroke-width="0.3" stroke-opacity="0.22"/>
<line x1="132.89" y1="28.90" x2="132.89" y2="209.40" stroke="#ffffff" stroke-width="0.3" stroke-opacity="0.22"/>
<line x1="134.65" y1="28.90" x2="134.65" y2="209.40" stroke="#ffffff" stroke-width="0.3" stroke-opacity="0.22"/>
<line x1="136.40" y1="28.90" x2="136.40" y2="209.40" stroke="#ffffff" stroke-width="0.3" stroke-opacity="0.22"/>
<line x1="138.15" y1="28.90" x2="138.15" y2="209.40" stroke="#ffffff" stroke-width="0.3" stroke-opacity="0.22"/>
<line x1="139.91" y1="28.90" x2="139.91" y2="209.40" stroke="#ffffff" stroke-width="0.3" stroke-opacity="0.22"/>
<line x1="141.66" y1="28.90" x2="141.66" y2="209.40" stroke="#ffffff" stroke-width="0.3" stroke-opacity="0.22"/>
<line x1="143.42" y1="28.90" x2="143.42" y2="209.40" stroke="#ffffff" stroke-width="0.3" stroke-opacity="0.22"/>
<line x1="145.17" y1="28.90" x2="145.17" y2="209.40" stroke="#ffffff" stroke-width="0.3" stroke-opacity="0.22"/>
<line x1="146.92" y1="28.90" x2="146.92" y2="209.40" stroke="#ffffff" stroke-width="0.3" stroke-opacity="0.22"/>
<line x1="148.68" y1="28.90" x2="148.68" y2="209.40" stroke="#ffffff" stroke-width="0.3" stroke-opacity="0.22"/>
<line x1="150.43" y1="28.90" x2="150.43" y2="209.40" stroke="#ffffff" stroke-width="0.3" stroke-opacity="0.22"/>
<line x1="152.19" y1="28.90" x2="152.19" y2="209.40" stroke="#ffffff" stroke-width="0.3" stroke-opacity="0.22"/>
<line x1="153.94" y1="28.90" x2="153.94" y2="209.40" stroke="#ffffff" stroke-width="0.3" stroke-opacity="0.22"/>
<line x1="155.69" y1="28.90" x2="155.69" y2="209.40" stroke="#ffffff" stroke-width="0.3" stroke-opacity="0.22"/>
<line x1="157.45" y1="28.90" x2="157.45" y2="209.40" stroke="#ffffff" stroke-width="0.3" stroke-opacity="0.22"/>
<line x1="159.20" y1="28.90" x2="159.20" y2="209.40" stroke="#ffffff" stroke-width="0.3" stroke-opacity="0.22"/>
<line x1="160.96" y1="28.90" x2="160.96" y2="209.40" stroke="#ffffff" stroke-width="0.3" stroke-opacity="0.22"/>
<line x1="162.71" y1="28.90" x2="162.71" y2="209.40" stroke="#ffffff" stroke-width="0.3" stroke-opacity="0.22"/>
<line x1="164.46" y1="28.90" x2="164.46" y2="209.40" stroke="#ffffff" stroke-width="0.3" stroke-opacity="0.22"/>
<line x1="166.22" y1="28.90" x2="166.22" y2="209.40" stroke="#ffffff" stroke-width="0.3" stroke-opacity="0.22"/>
<line x1="167.97" y1="28.90" x2="167.97" y2="209.40" stroke="#ffffff" stroke-width="0.3" stroke-opacity="0.22"/>
<line x1="169.73" y1="28.90" x2="169.73" y2="209.40" stroke="#ffffff" stroke-width="0.3" stroke-opacity="0.22"/>
<line x1="171.48" y1="28.90" x2="171.48" y2="209.40" stroke="#ffffff" stroke-width="0.3" stroke-opacity="0.22"/>
<line x1="173.23" y1="28.90" x2="173.23" y2="209.40" stroke="#ffffff" stroke-width="0.3" stroke-opacity="0.22"/>
<line x1="174.99" y1="28.90" x2="174.99" y2="209.40" stroke="#ffffff" stroke-width="0.3" stroke-opacity="0.22"/>
<line x1="176.74" y1="28.90" x2="176.74" y2="209.40" stroke="#ffffff" stroke-width="0.3" stroke-opacity="0.22"/>
<line x1="178.50" y1="28.90" x2="178.50" y2="209.40" stroke="#ffffff" stroke-width="0.3" stroke-opacity="0.22"/>
<line x1="180.25" y1="28.90" x2="180.25" y2="209.40" stroke="#ffffff" stroke-width="0.3" stroke-opacity="0.22"/>
<line x1="182.00" y1="28.90" x2="182.00" y2="209.40" stroke="#ffffff" stroke-width="0.3" stroke-opacity="0.22"/>
<line x1="183.76" y1="28.90" x2="183.76" y2="209.40" stroke="#ffffff" stroke-width="0.3" stroke-opacity="0.22"/>
<line x1="185.51" y1="28.90" x2="185.51" y2="209.40" stroke="#ffffff" stroke-width="0.3" stroke-opacity="0.22"/>
<line x1="187.27" y1="28.90" x2="187.27" y2="209.40" stroke="#ffffff" stroke-width="0.3" stroke-opacity="0.22"/>
<line x1="189.02" y1="28.90" x2="189.02" y2="209.40" stroke="#ffffff" stroke-width="0.3" stroke-opacity="0.22"/>
<line x1="190.77" y1="28.90" x2="190.77" y2="209.40" stroke="#ffffff" stroke-width="0.3" stroke-opacity="0.22"/>
<line x1="192.53" y1="28.90" x2="192.53" y2="209.40" stroke="#ffffff" stroke-width="0.3" stroke-opacity="0.22"/>
<line x1="194.28" y1="28.90" x2="194.28" y2="209.40" stroke="#ffffff" stroke-width="0.3" stroke-opacity="0.22"/>
<line x1="196.04" y1="28.90" x2="196.04" y2="209.40" stroke="#ffffff" stroke-width="0.3" stroke-opacity="0.22"/>
<line x1="197.79" y1="28.90" x2="197.79" y2="209.40" stroke="#ffffff" stroke-width="0.3" stroke-opacity="0.22"/>
<line x1="199.54" y1="28.90" x2="199.54" y2="209.40" stroke="#ffffff" stroke-width="0.3" stroke-opacity="0.22"/>
<line x1="201.30" y1="28.90" x2="201.30" y2="209.40" stroke="#ffffff" stroke-width="0.3" stroke-opacity="0.22"/>
<line x1="203.05" y1="28.90" x2="203.05" y2="209.40" stroke="#ffffff" stroke-width="0.3" stroke-opacity="0.22"/>
<line x1="204.81" y1="28.90" x2="204.81" y2="209.40" stroke="#ffffff" stroke-width="0.3" stroke-opacity="0.22"/>
<line x1="206.56" y1="28.90" x2="206.56" y2="209.40" stroke="#ffffff" stroke-width="0.3" stroke-opacity="0.22"/>
<line x1="208.31" y1="28.90" x2="208.31" y2="209.40" stroke="#ffffff" stroke-width="0.3" stroke-opacity="0.22"/>
<line x1="210.07" y1="28.90" x2="210.07" y2="209.40" stroke="#ffffff" stroke-width="0.3" stroke-opacity="0.22"/>
<line x1="211.82" y1="28.90" x2="211.82" y2="209.40" stroke="#ffffff" stroke-width="0.3" stroke-opacity="0.22"/>
<line x1="213.58" y1="28.90" x2="213.58" y2="209.40" stroke="#ffffff" stroke-width="0.3" stroke-opacity="0.22"/>
<line x1="215.33" y1="28.90" x2="215.33" y2="209.40" stroke="#ffffff" stroke-width="0.3" stroke-opacity="0.22"/>
<line x1="217.08" y1="28.90" x2="217.08" y2="209.40" stroke="#ffffff" stroke-width="0.3" stroke-opacity="0.22"/>
<line x1="218.84" y1="28.90" x2="218.84" y2="209.40" stroke="#ffffff" stroke-width="0.3" stroke-opacity="0.22"/>
<line x1="220.59" y1="28.90" x2="220.59" y2="209.40" stroke="#ffffff" stroke-width="0.3" stroke-opacity="0.22"/>
<line x1="222.35" y1="28.90" x2="222.35" y2="209.40" stroke="#ffffff" stroke-width="0.3" stroke-opacity="0.22"/>
<line x1="224.10" y1="28.90" x2="224.10" y2="209.40" stroke="#ffffff" stroke-width="0.3" stroke-opacity="0.22"/>
<line x1="225.85" y1="28.90" x2="225.85" y2="209.40" stroke="#ffffff" stroke-width="0.3" stroke-opacity="0.22"/>
<line x1="227.61" y1="28.90" x2="227.61" y2="209.40" stroke="#ffffff" stroke-width="0.3" stroke-opacity="0.22"/>
<line x1="229.36" y1="28.90" x2="229.36" y2="209.40" stroke="#ffffff" stroke-width="0.3" stroke-opacity="0.22"/>
<line x1="231.12" y1="28.90" x2="231.12" y2="209.40" stroke="#ffffff" stroke-width="0.3" stroke-opacity="0.22"/>
<line x1="232.87" y1="28.90" x2="232.87" y2="209.40" stroke="#ffffff" stroke-width="0.3" stroke-opacity="0.22"/>
<line x1="234.62" y1="28.90" x2="234.62" y2="209.40" stroke="#ffffff" stroke-width="0.3" stroke-opacity="0.22"/>
<line x1="236.38" y1="28.90" x2="236.38" y2="209.40" stroke="#ffffff" stroke-width="0.3" stroke-opacity="0.22"/>
<line x1="238.13" y1="28.90" x2="238.13" y2="209.40" stroke="#ffffff" stroke-width="0.3" stroke-opacity="0.22"/>
<line x1="239.89" y1="28.90" x2="239.89" y2="209.40" stroke="#ffffff" stroke-width="0.3" stroke-opacity="0.22"/>
<line x1="241.64" y1="28.90" x2="241.64" y2="209.40" stroke="#ffffff" stroke-width="0.3" stroke-opacity="0.22"/>
<line x1="243.39" y1="28.90" x2="243.39" y2="209.40" stroke="#ffffff" stroke-width="0.3" stroke-opacity="0.22"/>
<line x1="245.15" y1="28.90" x2="245.15" y2="209.40" stroke="#ffffff" stroke-width="0.3" stroke-opacity="0.22"/>
<line x1="246.90" y1="28.90" x2="246.90" y2="209.40" stroke="#ffffff" stroke-width="0.3" stroke-opacity="0.22"/>
<line x1="248.66" y1="28.90" x2="248.66" y2="209.40" stroke="#ffffff" stroke-width="0.3" stroke-opacity="0.22"/>
<line x1="250.41" y1="28.90" x2="250.41" y2="209.40" stroke="#ffffff" stroke-width="0.3" stroke-opacity="0.22"/>
<line x1="252.16" y1="28.90" x2="252.16" y2="209.40" stroke="#ffffff" stroke-width="0.3" stroke-opacity="0.22"/>
<line x1="253.92" y1="28.90" x2="253.92" y2="209.40" stroke="#ffffff" stroke-width="0.3" stroke-opacity="0.22"/>
<line x1="255.67" y1="28.90" x2="255.67" y2="209.40" stroke="#ffffff" stroke-width="0.3" stroke-opacity="0.22"/>
<line x1="257.43" y1="28.90" x2="257.43" y2="209.40" stroke="#ffffff" stroke-width="0.3" stroke-opacity="0.22"/>
<line x1="259.18" y1="28.90" x2="259.18" y2="209.40" stroke="#ffffff" stroke-width="0.3" stroke-opacity="0.22"/>
<line x1="260.93" y1="28.90" x2="260.93" y2="209.40" stroke="#ffffff" stroke-width="0.3" stroke-opacity="0.22"/>
<line x1="262.69" y1="28.90" x2="262.69" y2="209.40" stroke="#ffffff" stroke-width="0.3" stroke-opacity="0.22"/>
<line x1="264.44" y1="28.90" x2="264.44" y2="209.40" stroke="#ffffff" stroke-width="0.3" stroke-opacity="0.22"/>
<line x1="266.20" y1="28.90" x2="266.20" y2="209.40" stroke="#ffffff" stroke-width="0.3" stroke-opacity="0.22"/>
<line x1="267.95" y1="28.90" x2="267.95" y2="209.40" stroke="#ffffff" stroke-width="0.3" stroke-opacity="0.22"/>
<line x1="269.70" y1="28.90" x2="269.70" y2="209.40" stroke="#ffffff" stroke-width="0.3" stroke-opacity="0.22"/>
<line x1="271.46" y1="28.90" x2="271.46" y2="209.40" stroke="#ffffff" stroke-width="0.3" stroke-opacity="0.22"/>
<line x1="273.21" y1="28.90" x2="273.21" y2="209.40" stroke="#ffffff" stroke-width="0.3" stroke-opacity="0.22"/>
<line x1="274.97" y1="28.90" x2="274.97" y2="209.40" stroke="#ffffff" stroke-width="0.3" stroke-opacity="0.22"/>
<line x1="276.72" y1="28.90" x2="276.72" y2="209.40" stroke="#ffffff" stroke-width="0.3" stroke-opacity="0.22"/>
<line x1="278.47" y1="28.90" x2="278.47" y2="209.40" stroke="#ffffff" stroke-width="0.3" stroke-opacity="0.22"/>
<line x1="280.23" y1="28.90" x2="280.23" y2="209.40" stroke="#ffffff" stroke-width="0.3" stroke-opacity="0.22"/>
<line x1="281.98" y1="28.90" x2="281.98" y2="209.40" stroke="#ffffff" stroke-width="0.3" stroke-opacity="0.22"/>
<line x1="283.74" y1="28.90" x2="283.74" y2="209.40" stroke="#ffffff" stroke-width="0.3" stroke-opacity="0.22"/>
<line x1="285.49" y1="28.90" x2="285.49" y2="209.40" stroke="#ffffff" stroke-width="0.3" stroke-opacity="0.22"/>
<line x1="287.24" y1="28.90" x2="287.24" y2="209.40" stroke="#ffffff" stroke-width="0.3" stroke-opacity="0.22"/>
<line x1="289.00" y1="28.90" x2="289.00" y2="209.40" stroke="#ffffff" stroke-width="0.3" stroke-opacity="0.22"/>
<line x1="290.75" y1="28.90" x2="290.75" y2="209.40" stroke="#ffffff" stroke-width="0.3" stroke-opacity="0.22"/>
<line x1="292.51" y1="28.90" x2="292.51" y2="209.40" stroke="#ffffff" stroke-width="0.3" stroke-opacity="0.22"/>
<line x1="294.26" y1="28.90" x2="294.26" y2="209.40" stroke="#ffffff" stroke-width="0.3" stroke-opacity="0.22"/>
<line x1="296.01" y1="28.90" x2="296.01" y2="209.40" stroke="#ffffff" stroke-width="0.3" stroke-opacity="0.22"/>
<line x1="297.77" y1="28.90" x2="297.77" y2="209.40" stroke="#ffffff" stroke-width="0.3" stroke-opacity="0.22"/>
<line x1="299.52" y1="28.90" x2="299.52" y2="209.40" stroke="#ffffff" stroke-width="0.3" stroke-opacity="0.22"/>
<line x1="301.28" y1="28.90" x2="301.28" y2="209.40" stroke="#ffffff" stroke-width="0.3" stroke-opacity="0.22"/>
<line x1="303.03" y1="28.90" x2="303.03" y2="209.40" stroke="#ffffff" stroke-width="0.3" stroke-opacity="0.22"/>
<rect x="48.50" y="28.90" width="257.80" height="180.50" fill="none" stroke="#000" stroke-width="1.5"/>
<text x="46.00" y="39.20" font-size="12.5" font-weight="bold" text-anchor="end" fill="#000">100%</text>
<text x="46.00" y="75.10" font-size="12.5" font-weight="bold" text-anchor="end" fill="#000">75%</text>
<text x="46.00" y="116.70" font-size="12.5" font-weight="bold" text-anchor="end" fill="#000">50%</text>
<text x="46.00" y="166.00" font-size="12.5" font-weight="bold" text-anchor="end" fill="#000">25%</text>
<text x="46.00" y="204.30" font-size="12.5" font-weight="bold" text-anchor="end" fill="#000">0%</text>
<text x="14.90" y="109.60" font-size="13" font-weight="bold" text-anchor="middle" fill="#000" transform="rotate(-90 14.90 109.60)">Proportion(%)</text>
<rect x="45.50" y="217.10" width="6.90" height="6.60" fill="#EEF49C"/>
<text x="54.00" y="224.20" font-size="11.7" font-weight="bold" text-anchor="start" fill="#000">Lymphocytes</text>
<rect x="133.90" y="217.00" width="7.00" height="6.50" fill="#E26A7E"/>
<text x="143.00" y="224.20" font-size="11.6" font-weight="bold" text-anchor="start" fill="#000">Neutrophils</text>
<rect x="210.30" y="217.00" width="7.00" height="6.50" fill="#EDBE37"/>
<text x="220.10" y="224.20" font-size="11.6" font-weight="bold" text-anchor="start" fill="#000">Monocyte</text>
<rect x="46.10" y="229.80" width="7.30" height="7.00" fill="#7ED5C0"/>
<text x="55.20" y="236.60" font-size="11.7" font-weight="bold" text-anchor="start" fill="#000">Eosinophils</text>
<rect x="126.20" y="230.40" width="7.70" height="7.00" fill="#8E5CC8"/>
<text x="136.90" y="236.80" font-size="11.6" font-weight="bold" text-anchor="start" fill="#000">Basophils</text>
<text x="310.00" y="19.40" font-size="25.5" font-weight="bold" text-anchor="start" fill="#000">B</text>
<rect x="465.30" y="33.20" width="80.20" height="12.40" fill="#A9D9F3"/>
<rect x="507.00" y="46.50" width="13.10" height="11.90" fill="#EEC2C7"/>
<rect x="486.70" y="62.40" width="47.20" height="12.40" fill="#A9D9F3"/>
<rect x="340.00" y="74.90" width="316.80" height="13.30" fill="#EEC2C7"/>
<rect x="481.20" y="94.20" width="84.00" height="13.00" fill="#A9D9F3"/>
<rect x="447.00" y="107.20" width="169.80" height="12.90" fill="#EEC2C7"/>
<rect x="493.00" y="125.20" width="44.10" height="13.70" fill="#A9D9F3"/>
<rect x="504.80" y="139.70" width="17.90" height="11.50" fill="#EEC2C7"/>
<rect x="505.30" y="162.00" width="28.70" height="13.40" fill="#A9D9F3"/>
<rect x="508.20" y="187.80" width="11.70" height="13.20" fill="#A9D9F3"/>
<line x1="515.30" y1="31.00" x2="515.30" y2="201.00" stroke="#3a3a3a" stroke-width="1.0"/>
<line x1="515.30" y1="201.00" x2="515.30" y2="214.00" stroke="#6a2f2f" stroke-width="1.0"/>
<text x="463.40" y="42.20" font-size="8.6" font-weight="bold" text-anchor="end" fill="#000">634</text>
<text x="546.70" y="42.20" font-size="8.6" font-weight="bold" text-anchor="start" fill="#000">579</text>
<text x="503.80" y="55.40" font-size="8.6" font-weight="bold" text-anchor="end" fill="#000">207</text>
<text x="524.60" y="55.40" font-size="8.6" font-weight="bold" text-anchor="start" fill="#000">96</text>
<text x="485.00" y="69.40" font-size="8.6" font-weight="bold" text-anchor="end" fill="#000">563</text>
<text x="534.60" y="69.40" font-size="8.6" font-weight="bold" text-anchor="start" fill="#000">458</text>
<text x="340.50" y="83.60" font-size="8.6" font-weight="bold" text-anchor="start" fill="#000">3617</text>
<text x="655.40" y="83.80" font-size="8.6" font-weight="bold" text-anchor="end" fill="#000">2676</text>
<text x="484.60" y="101.80" font-size="8.6" font-weight="bold" text-anchor="start" fill="#000">882</text>
<text x="563.40" y="103.30" font-size="8.6" font-weight="bold" text-anchor="end" fill="#000">969</text>
<text x="447.50" y="116.50" font-size="8.6" font-weight="bold" text-anchor="start" fill="#000">1565</text>
<text x="614.40" y="116.20" font-size="8.6" font-weight="bold" text-anchor="end" fill="#000">1990</text>
<text x="490.40" y="138.10" font-size="8.6" font-weight="bold" text-anchor="end" fill="#000">548</text>
<text x="543.40" y="136.10" font-size="8.6" font-weight="bold" text-anchor="start" fill="#000">468</text>
<text x="502.20" y="153.30" font-size="8.6" font-weight="bold" text-anchor="end" fill="#000">340</text>
<text x="524.50" y="153.30" font-size="8.6" font-weight="bold" text-anchor="start" fill="#000">268</text>
<text x="473.90" y="173.20" font-size="8.6" font-weight="bold" text-anchor="start" fill="#000">195</text>
<text x="543.50" y="173.20" font-size="8.6" font-weight="bold" text-anchor="start" fill="#000">209</text>
<text x="486.00" y="198.80" font-size="8.6" font-weight="bold" text-anchor="start" fill="#000">100</text>
<text x="535.20" y="198.80" font-size="8.6" font-weight="bold" text-anchor="start" fill="#000">65</text>
<text x="515.40" y="47.70" font-size="14" font-weight="bold" text-anchor="middle" fill="#000">WBC</text>
<text x="518.30" y="79.90" font-size="13.8" font-weight="bold" text-anchor="middle" fill="#000">Neu%</text>
<text x="520.85" y="113.40" font-size="13.8" font-weight="bold" text-anchor="middle" fill="#000">LYMPH%</text>
<text x="522.20" y="142.30" font-size="12.2" font-weight="bold" text-anchor="middle" fill="#000">Mono%</text>
<text x="517.05" y="173.70" font-size="14" font-weight="bold" text-anchor="middle" fill="#000">IFNγ</text>
<text x="517.50" y="198.80" font-size="12.3" font-weight="bold" text-anchor="middle" fill="#000">IFNα</text>
<text x="321.00" y="59.90" font-size="11.8" font-weight="bold" text-anchor="start" fill="#000">log2(Fold change)&lt;0</text>
<text x="680.50" y="60.20" font-size="11.8" font-weight="bold" text-anchor="end" fill="#000">log2(Fold change)&gt;0</text>
<rect x="324.90" y="182.20" width="8.80" height="7.80" fill="#8DB9E0"/>
<text x="335.30" y="190.60" font-size="12" font-weight="bold" text-anchor="start" fill="#000">PBMC</text>
<rect x="324.90" y="194.30" width="8.80" height="7.30" fill="#E8A9B1"/>
<text x="335.30" y="202.50" font-size="12" font-weight="bold" text-anchor="start" fill="#000">Neu</text>
<rect x="318.30" y="30.60" width="364.30" height="183.70" fill="none" stroke="#000" stroke-width="1.4"/>
<line x1="318.80" y1="214.30" x2="318.80" y2="218.30" stroke="#000" stroke-width="1.3"/>
<line x1="344.70" y1="214.30" x2="344.70" y2="218.30" stroke="#000" stroke-width="1.3"/>
<line x1="372.00" y1="214.30" x2="372.00" y2="218.30" stroke="#000" stroke-width="1.3"/>
<line x1="398.20" y1="214.30" x2="398.20" y2="218.30" stroke="#000" stroke-width="1.3"/>
<line x1="423.40" y1="214.30" x2="423.40" y2="218.30" stroke="#000" stroke-width="1.3"/>
<line x1="448.60" y1="214.30" x2="448.60" y2="218.30" stroke="#000" stroke-width="1.3"/>
<line x1="473.40" y1="214.30" x2="473.40" y2="218.30" stroke="#000" stroke-width="1.3"/>
<line x1="494.60" y1="214.30" x2="494.60" y2="218.30" stroke="#000" stroke-width="1.3"/>
<line x1="515.40" y1="214.30" x2="515.40" y2="218.30" stroke="#000" stroke-width="1.3"/>
<line x1="540.50" y1="214.30" x2="540.50" y2="218.30" stroke="#000" stroke-width="1.3"/>
<line x1="571.10" y1="214.30" x2="571.10" y2="218.30" stroke="#000" stroke-width="1.3"/>
<line x1="597.80" y1="214.30" x2="597.80" y2="218.30" stroke="#000" stroke-width="1.3"/>
<line x1="622.60" y1="214.30" x2="622.60" y2="218.30" stroke="#000" stroke-width="1.3"/>
<line x1="648.20" y1="214.30" x2="648.20" y2="218.30" stroke="#000" stroke-width="1.3"/>
<line x1="673.00" y1="214.30" x2="673.00" y2="218.30" stroke="#000" stroke-width="1.3"/>
<text x="315.40" y="232.00" font-size="14" font-weight="bold" text-anchor="middle" fill="#000">4000</text>
<text x="367.30" y="232.00" font-size="14" font-weight="bold" text-anchor="middle" fill="#000">3000</text>
<text x="417.50" y="232.00" font-size="14" font-weight="bold" text-anchor="middle" fill="#000">2000</text>
<text x="469.60" y="232.00" font-size="14" font-weight="bold" text-anchor="middle" fill="#000">1000</text>
<text x="518.20" y="232.00" font-size="14" font-weight="bold" text-anchor="middle" fill="#000">0</text>
<text x="567.40" y="232.00" font-size="14" font-weight="bold" text-anchor="middle" fill="#000">1000</text>
<text x="619.30" y="232.00" font-size="14" font-weight="bold" text-anchor="middle" fill="#000">2000</text>
<text x="668.00" y="232.00" font-size="14" font-weight="bold" text-anchor="middle" fill="#000">3000</text>
<text x="4.40" y="267.80" font-size="29" font-weight="bold" text-anchor="start" fill="#000">C</text>
<rect x="44.30" y="279.70" width="28.00" height="14.90" fill="#fbf1ee"/>
<rect x="72.00" y="279.70" width="28.10" height="14.90" fill="#ebf5fc"/>
<rect x="99.80" y="279.70" width="27.80" height="14.90" fill="#f8e7e3"/>
<rect x="127.30" y="279.70" width="28.00" height="14.90" fill="#fdf7f5"/>
<rect x="184.00" y="279.70" width="28.30" height="14.90" fill="#f8e7e3"/>
<rect x="212.00" y="279.70" width="28.10" height="14.90" fill="#faefec"/>
<rect x="239.80" y="279.70" width="28.50" height="14.90" fill="#fdf7f5"/>
<rect x="268.00" y="279.70" width="28.30" height="14.90" fill="#a6d5f9"/>
<rect x="72.00" y="294.30" width="28.10" height="14.90" fill="#fdf7f5"/>
<rect x="99.80" y="294.30" width="27.80" height="14.90" fill="#f8e7e3"/>
<rect x="127.30" y="294.30" width="28.00" height="14.90" fill="#f5d9d1"/>
<rect x="155.00" y="294.30" width="29.30" height="14.90" fill="#e9f4fc"/>
<rect x="184.00" y="294.30" width="28.30" height="14.90" fill="#f5d5cd"/>
<rect x="239.80" y="294.30" width="28.50" height="14.90" fill="#fbf1ee"/>
<rect x="268.00" y="294.30" width="28.30" height="14.90" fill="#72b8f4"/>
<rect x="44.30" y="308.90" width="28.00" height="14.90" fill="#fdf7f5"/>
<rect x="72.00" y="308.90" width="28.10" height="14.90" fill="#fbf1ee"/>
<rect x="99.80" y="308.90" width="27.80" height="14.90" fill="#fbf1ee"/>
<rect x="127.30" y="308.90" width="28.00" height="14.90" fill="#fdf7f5"/>
<rect x="155.00" y="308.90" width="29.30" height="14.90" fill="#edf6fd"/>
<rect x="184.00" y="308.90" width="28.30" height="14.90" fill="#fbf1ee"/>
<rect x="239.80" y="308.90" width="28.50" height="14.90" fill="#fdf7f5"/>
<rect x="268.00" y="308.90" width="28.30" height="14.90" fill="#f7e0da"/>
<rect x="72.00" y="323.50" width="28.10" height="14.90" fill="#fdf7f5"/>
<rect x="99.80" y="323.50" width="27.80" height="14.90" fill="#f6ddd5"/>
<rect x="155.00" y="323.50" width="29.30" height="14.90" fill="#f6fbfe"/>
<rect x="184.00" y="323.50" width="28.30" height="14.90" fill="#f8e7e3"/>
<rect x="212.00" y="323.50" width="28.10" height="14.90" fill="#f9ebe7"/>
<rect x="239.80" y="323.50" width="28.50" height="14.90" fill="#faefec"/>
<rect x="268.00" y="323.50" width="28.30" height="14.90" fill="#f0b5a6"/>
<rect x="99.80" y="338.10" width="27.80" height="14.90" fill="#f6ddd5"/>
<rect x="184.00" y="338.10" width="28.30" height="14.90" fill="#f9ebe7"/>
<rect x="212.00" y="338.10" width="28.10" height="14.90" fill="#f7e2dc"/>
<rect x="239.80" y="338.10" width="28.50" height="14.90" fill="#faefec"/>
<rect x="268.00" y="338.10" width="28.30" height="14.90" fill="#f0b5a6"/>
<rect x="44.30" y="352.70" width="28.00" height="14.90" fill="#edf6fd"/>
<rect x="72.00" y="352.70" width="28.10" height="14.90" fill="#fbf1ee"/>
<rect x="99.80" y="352.70" width="27.80" height="14.90" fill="#f5d9d1"/>
<rect x="184.00" y="352.70" width="28.30" height="14.90" fill="#f7e2dc"/>
<rect x="212.00" y="352.70" width="28.10" height="14.90" fill="#f7e2dc"/>
<rect x="239.80" y="352.70" width="28.50" height="14.90" fill="#faede9"/>
<rect x="268.00" y="352.70" width="28.30" height="14.90" fill="#efaa99"/>
<rect x="45.80" y="367.70" width="25.40" height="13.40" fill="#f9ebe7"/>
<rect x="72.00" y="367.30" width="28.10" height="14.90" fill="#fdf7f5"/>
<rect x="99.80" y="367.30" width="27.80" height="14.90" fill="#fbf1ee"/>
<rect x="127.30" y="367.30" width="28.00" height="14.90" fill="#f6fbfe"/>
<rect x="155.00" y="367.30" width="29.30" height="14.90" fill="#fdf7f5"/>
<rect x="212.00" y="367.30" width="28.10" height="14.90" fill="#fbf3f1"/>
<rect x="239.80" y="367.30" width="28.50" height="14.90" fill="#fdf9f8"/>
<rect x="268.00" y="367.30" width="28.30" height="14.90" fill="#f45e3a"/>
<rect x="44.30" y="381.90" width="28.00" height="14.90" fill="#fdf7f5"/>
<rect x="72.00" y="381.90" width="28.10" height="14.90" fill="#fdf7f5"/>
<rect x="99.80" y="381.90" width="27.80" height="14.90" fill="#f9ebe7"/>
<rect x="127.30" y="381.90" width="28.00" height="14.90" fill="#f6fbfe"/>
<rect x="156.50" y="382.30" width="26.70" height="13.40" fill="#f1bcae"/>
<rect x="212.00" y="381.90" width="28.10" height="14.90" fill="#faefec"/>
<rect x="239.80" y="381.90" width="28.50" height="14.90" fill="#faefec"/>
<rect x="268.00" y="381.90" width="28.30" height="14.90" fill="#f55a35"/>
<rect x="44.30" y="396.50" width="28.00" height="14.90" fill="#fdf7f5"/>
<rect x="72.00" y="396.50" width="28.10" height="14.90" fill="#faefec"/>
<rect x="99.80" y="396.50" width="27.80" height="14.90" fill="#f6ddd5"/>
<rect x="127.30" y="396.50" width="28.00" height="14.90" fill="#faefec"/>
<rect x="155.00" y="396.50" width="29.30" height="14.90" fill="#edf6fd"/>
<rect x="184.00" y="396.50" width="28.30" height="14.90" fill="#f7e2dc"/>
<rect x="212.00" y="396.50" width="28.10" height="14.90" fill="#fbf1ee"/>
<rect x="239.80" y="396.50" width="28.50" height="14.90" fill="#f9ebe7"/>
<rect x="268.00" y="396.50" width="28.30" height="14.90" fill="#f09f8a"/>
<rect x="44.30" y="411.10" width="28.00" height="14.90" fill="#fdf7f5"/>
<rect x="72.00" y="411.10" width="28.10" height="14.90" fill="#fdf7f5"/>
<rect x="127.30" y="411.10" width="28.00" height="14.90" fill="#f6fbfe"/>
<rect x="155.00" y="411.10" width="29.30" height="14.90" fill="#fdf7f5"/>
<rect x="212.00" y="411.10" width="28.10" height="14.90" fill="#fdf7f5"/>
<rect x="239.80" y="411.10" width="28.50" height="14.90" fill="#fdf7f5"/>
<rect x="268.00" y="411.10" width="28.30" height="14.90" fill="#b2dbf9"/>
<rect x="44.30" y="425.70" width="28.00" height="14.90" fill="#e9f4fc"/>
<rect x="72.00" y="425.70" width="28.10" height="14.90" fill="#fbf1ee"/>
<rect x="99.80" y="425.70" width="27.80" height="14.90" fill="#fbf1ee"/>
<rect x="127.30" y="425.70" width="28.00" height="14.90" fill="#f8e7e3"/>
<rect x="155.00" y="425.70" width="29.30" height="14.90" fill="#e9f4fc"/>
<rect x="184.00" y="425.70" width="28.30" height="14.90" fill="#f8e7e3"/>
<rect x="239.80" y="425.70" width="28.50" height="14.90" fill="#fbf1ee"/>
<rect x="268.00" y="425.70" width="28.30" height="14.90" fill="#deeffc"/>
<rect x="72.00" y="440.30" width="28.10" height="14.90" fill="#fbf1ee"/>
<rect x="99.80" y="440.30" width="27.80" height="14.90" fill="#fbf1ee"/>
<rect x="127.30" y="440.30" width="28.00" height="14.90" fill="#e9f4fc"/>
<rect x="155.00" y="440.30" width="29.30" height="14.90" fill="#f9ebe7"/>
<rect x="212.00" y="440.30" width="28.10" height="14.90" fill="#f7e2dc"/>
<rect x="239.80" y="440.30" width="28.50" height="14.90" fill="#fbf1ee"/>
<rect x="268.00" y="440.30" width="28.30" height="14.90" fill="#f09983"/>
<rect x="72.00" y="454.90" width="28.10" height="14.90" fill="#f9ebe7"/>
<rect x="99.80" y="454.90" width="27.80" height="14.90" fill="#f7e2dc"/>
<rect x="127.30" y="454.90" width="28.00" height="14.90" fill="#edf6fd"/>
<rect x="155.00" y="454.90" width="29.30" height="14.90" fill="#fbf1ee"/>
<rect x="212.00" y="454.90" width="28.10" height="14.90" fill="#f7e2dc"/>
<rect x="239.80" y="454.90" width="28.50" height="14.90" fill="#faefec"/>
<rect x="268.00" y="454.90" width="28.30" height="14.90" fill="#f09781"/>
<rect x="99.80" y="469.50" width="27.80" height="14.90" fill="#fdf7f5"/>
<rect x="127.30" y="469.50" width="28.00" height="14.90" fill="#f6fbfe"/>
<rect x="155.00" y="469.50" width="29.30" height="14.90" fill="#fdf7f5"/>
<rect x="212.00" y="469.50" width="28.10" height="14.90" fill="#faefec"/>
<rect x="239.80" y="469.50" width="28.50" height="14.90" fill="#fdf7f5"/>
<rect x="268.00" y="469.50" width="28.30" height="14.90" fill="#f09983"/>
<rect x="44.30" y="484.10" width="28.00" height="14.90" fill="#f0f7fd"/>
<rect x="72.00" y="484.10" width="28.10" height="14.90" fill="#fbf1ee"/>
<rect x="99.80" y="484.10" width="27.80" height="14.90" fill="#fdf7f5"/>
<rect x="127.30" y="484.10" width="28.00" height="14.90" fill="#e9f4fc"/>
<rect x="155.00" y="484.10" width="29.30" height="14.90" fill="#faefec"/>
<rect x="184.00" y="484.10" width="28.30" height="14.90" fill="#f6fbfe"/>
<rect x="212.00" y="484.10" width="28.10" height="14.90" fill="#faefec"/>
<rect x="239.80" y="484.10" width="28.50" height="14.90" fill="#fdf7f5"/>
<rect x="268.00" y="484.10" width="28.30" height="14.90" fill="#f3c7bb"/>
<rect x="44.30" y="498.70" width="28.00" height="14.90" fill="#f0f7fd"/>
<rect x="72.00" y="498.70" width="28.10" height="14.90" fill="#f9ebe7"/>
<rect x="99.80" y="498.70" width="27.80" height="14.90" fill="#f9ebe7"/>
<rect x="184.00" y="498.70" width="28.30" height="14.90" fill="#fdf7f5"/>
<rect x="212.00" y="498.70" width="28.10" height="14.90" fill="#f8e7e3"/>
<rect x="239.80" y="498.70" width="28.50" height="14.90" fill="#f9ebe7"/>
<rect x="268.00" y="498.70" width="28.30" height="14.90" fill="#f0b1a1"/>
<rect x="44.30" y="513.30" width="28.00" height="14.90" fill="#f6fbfe"/>
<rect x="72.00" y="513.30" width="28.10" height="14.90" fill="#fbf1ee"/>
<rect x="99.80" y="513.30" width="27.80" height="14.90" fill="#fdf7f5"/>
<rect x="212.00" y="513.30" width="28.10" height="14.90" fill="#fdf7f5"/>
<rect x="239.80" y="513.30" width="28.50" height="14.90" fill="#faefec"/>
<rect x="268.00" y="513.30" width="28.30" height="14.90" fill="#f1bcae"/>
<text transform="translate(197.70 300.40) scale(0.92 1.3)" font-size="20" font-weight="bold" text-anchor="middle">*</text>
<text transform="translate(280.60 300.40) scale(0.92 1.3)" font-size="20" font-weight="bold" text-anchor="middle">*</text>
<text transform="translate(141.15 315.00) scale(0.92 1.3)" font-size="20" font-weight="bold" text-anchor="middle">***</text>
<text transform="translate(197.70 315.00) scale(0.92 1.3)" font-size="20" font-weight="bold" text-anchor="middle">***</text>
<text transform="translate(280.60 315.00) scale(0.92 1.3)" font-size="20" font-weight="bold" text-anchor="middle">*</text>
<text transform="translate(141.15 329.60) scale(0.92 1.3)" font-size="20" font-weight="bold" text-anchor="middle">*</text>
<text transform="translate(197.70 329.60) scale(0.92 1.3)" font-size="20" font-weight="bold" text-anchor="middle">*</text>
<text transform="translate(280.60 329.60) scale(0.92 1.3)" font-size="20" font-weight="bold" text-anchor="middle">*</text>
<text transform="translate(113.85 344.20) scale(0.92 1.3)" font-size="20" font-weight="bold" text-anchor="middle">**</text>
<text transform="translate(197.70 344.20) scale(0.92 1.3)" font-size="20" font-weight="bold" text-anchor="middle">*</text>
<text transform="translate(225.40 344.20) scale(0.92 1.3)" font-size="20" font-weight="bold" text-anchor="middle">*</text>
<text transform="translate(280.60 344.20) scale(0.92 1.3)" font-size="20" font-weight="bold" text-anchor="middle">*</text>
<text transform="translate(113.85 358.80) scale(0.92 1.3)" font-size="20" font-weight="bold" text-anchor="middle">**</text>
<text transform="translate(197.70 358.80) scale(0.92 1.3)" font-size="20" font-weight="bold" text-anchor="middle">*</text>
<text transform="translate(225.40 358.80) scale(0.92 1.3)" font-size="20" font-weight="bold" text-anchor="middle">**</text>
<text transform="translate(280.60 358.80) scale(0.92 1.3)" font-size="20" font-weight="bold" text-anchor="middle">*</text>
<text transform="translate(113.85 373.40) scale(0.92 1.3)" font-size="20" font-weight="bold" text-anchor="middle">***</text>
<text transform="translate(197.70 373.40) scale(0.92 1.3)" font-size="20" font-weight="bold" text-anchor="middle">**</text>
<text transform="translate(225.40 373.40) scale(0.92 1.3)" font-size="20" font-weight="bold" text-anchor="middle">**</text>
<text transform="translate(250.90 373.40) scale(0.92 1.3)" font-size="20" font-weight="bold" text-anchor="middle">*</text>
<text transform="translate(280.60 373.40) scale(0.92 1.3)" font-size="20" font-weight="bold" text-anchor="middle">*</text>
<text transform="translate(57.75 388.00) scale(0.92 1.3)" font-size="20" font-weight="bold" text-anchor="middle">*</text>
<text transform="translate(280.60 388.00) scale(0.92 1.3)" font-size="20" font-weight="bold" text-anchor="middle">*</text>
<text transform="translate(167.20 402.60) scale(0.92 1.3)" font-size="20" font-weight="bold" text-anchor="middle">*</text>
<text transform="translate(225.40 402.60) scale(0.92 1.3)" font-size="20" font-weight="bold" text-anchor="middle">*</text>
<text transform="translate(280.60 402.60) scale(0.92 1.3)" font-size="20" font-weight="bold" text-anchor="middle">*</text>
<text transform="translate(113.85 417.20) scale(0.92 1.3)" font-size="20" font-weight="bold" text-anchor="middle">**</text>
<text transform="translate(197.70 417.20) scale(0.92 1.3)" font-size="20" font-weight="bold" text-anchor="middle">**</text>
<text transform="translate(250.90 417.20) scale(0.92 1.3)" font-size="20" font-weight="bold" text-anchor="middle">*</text>
<text transform="translate(280.60 417.20) scale(0.92 1.3)" font-size="20" font-weight="bold" text-anchor="middle">*</text>
<text transform="translate(225.40 431.80) scale(0.92 1.3)" font-size="20" font-weight="bold" text-anchor="middle">*</text>
<text transform="translate(280.60 431.80) scale(0.92 1.3)" font-size="20" font-weight="bold" text-anchor="middle">*</text>
<text transform="translate(141.15 446.40) scale(0.92 1.3)" font-size="20" font-weight="bold" text-anchor="middle">*</text>
<text transform="translate(280.60 446.40) scale(0.92 1.3)" font-size="20" font-weight="bold" text-anchor="middle">*</text>
<text transform="translate(167.20 461.00) scale(0.92 1.3)" font-size="20" font-weight="bold" text-anchor="middle">*</text>
<text transform="translate(225.40 461.00) scale(0.92 1.3)" font-size="20" font-weight="bold" text-anchor="middle">**</text>
<text transform="translate(280.60 461.00) scale(0.92 1.3)" font-size="20" font-weight="bold" text-anchor="middle">*</text>
<text transform="translate(86.10 475.60) scale(0.92 1.3)" font-size="20" font-weight="bold" text-anchor="middle">*</text>
<text transform="translate(225.40 475.60) scale(0.92 1.3)" font-size="20" font-weight="bold" text-anchor="middle">**</text>
<text transform="translate(280.60 475.60) scale(0.92 1.3)" font-size="20" font-weight="bold" text-anchor="middle">*</text>
<text transform="translate(250.90 490.20) scale(0.92 1.3)" font-size="20" font-weight="bold" text-anchor="middle">*</text>
<text transform="translate(280.60 490.20) scale(0.92 1.3)" font-size="20" font-weight="bold" text-anchor="middle">*</text>
<text transform="translate(113.85 504.80) scale(0.92 1.3)" font-size="20" font-weight="bold" text-anchor="middle">*</text>
<text transform="translate(280.60 504.80) scale(0.92 1.3)" font-size="20" font-weight="bold" text-anchor="middle">*</text>
<text transform="translate(225.40 519.40) scale(0.92 1.3)" font-size="20" font-weight="bold" text-anchor="middle">*</text>
<text transform="translate(250.90 519.40) scale(0.92 1.3)" font-size="20" font-weight="bold" text-anchor="middle">*</text>
<text transform="translate(280.60 519.40) scale(0.92 1.3)" font-size="20" font-weight="bold" text-anchor="middle">*</text>
<text transform="translate(167.20 535.50) scale(0.92 1.3)" font-size="20" font-weight="bold" text-anchor="middle">*</text>
<text transform="translate(280.60 534.00) scale(0.92 1.3)" font-size="20" font-weight="bold" text-anchor="middle">*</text>
<rect x="27.90" y="277.10" width="15.00" height="15.40" fill="#6B8E65"/>
<text x="3.40" y="290.60" font-size="13" font-weight="bold" text-anchor="start" fill="#000">M1</text>
<rect x="27.90" y="292.30" width="15.00" height="15.30" fill="#9A8C40"/>
<text x="3.40" y="305.30" font-size="13" font-weight="bold" text-anchor="start" fill="#000">M2</text>
<rect x="27.90" y="307.40" width="15.00" height="16.80" fill="#CCE2FA"/>
<text x="3.40" y="321.70" font-size="13" font-weight="bold" text-anchor="start" fill="#000">M3</text>
<rect x="27.90" y="324.00" width="15.00" height="14.40" fill="#4C6CEC"/>
<text x="3.40" y="338.00" font-size="13" font-weight="bold" text-anchor="start" fill="#000">M4</text>
<rect x="27.90" y="338.20" width="15.00" height="14.90" fill="#483E8C"/>
<text x="3.40" y="352.00" font-size="13" font-weight="bold" text-anchor="start" fill="#000">M5</text>
<rect x="27.90" y="352.90" width="15.00" height="14.90" fill="#5FE3D5"/>
<text x="3.40" y="366.20" font-size="13" font-weight="bold" text-anchor="start" fill="#000">M6</text>
<rect x="27.90" y="367.60" width="15.00" height="14.60" fill="#EEA22E"/>
<text x="3.40" y="380.60" font-size="13" font-weight="bold" text-anchor="start" fill="#000">M7</text>
<rect x="27.90" y="382.00" width="15.00" height="14.50" fill="#1414F5"/>
<text x="3.40" y="394.90" font-size="13" font-weight="bold" text-anchor="start" fill="#000">M8</text>
<rect x="27.90" y="396.30" width="15.00" height="15.00" fill="#3EF01E"/>
<text x="3.40" y="409.30" font-size="13" font-weight="bold" text-anchor="start" fill="#000">M9</text>
<rect x="27.90" y="411.10" width="15.00" height="14.60" fill="#E2FFFF"/>
<text x="26.40" y="424.60" font-size="13" font-weight="bold" text-anchor="end" fill="#000">M10</text>
<rect x="27.90" y="425.50" width="15.00" height="15.40" fill="#FFFFF0"/>
<text x="26.40" y="439.80" font-size="13" font-weight="bold" text-anchor="end" fill="#000">M11</text>
<rect x="27.90" y="440.70" width="15.00" height="15.50" fill="#8C1818"/>
<text x="26.40" y="454.30" font-size="13" font-weight="bold" text-anchor="end" fill="#000">M12</text>
<rect x="27.90" y="456.00" width="15.00" height="13.60" fill="#C9AC80"/>
<text x="26.40" y="466.30" font-size="13" font-weight="bold" text-anchor="end" fill="#000">M13</text>
<rect x="27.90" y="469.40" width="15.00" height="15.10" fill="#8E6AD8"/>
<text x="25.20" y="480.50" font-size="13" font-weight="bold" text-anchor="end" fill="#000">M14</text>
<rect x="27.90" y="484.30" width="15.00" height="14.90" fill="#F8DCF8"/>
<text x="25.20" y="495.40" font-size="13" font-weight="bold" text-anchor="end" fill="#000">M15</text>
<rect x="27.90" y="499.00" width="15.00" height="14.50" fill="#060606"/>
<text x="25.20" y="509.70" font-size="13" font-weight="bold" text-anchor="end" fill="#000">M16</text>
<rect x="27.90" y="513.30" width="15.00" height="14.60" fill="#8E22AA"/>
<text x="25.20" y="523.90" font-size="13" font-weight="bold" text-anchor="end" fill="#000">M17</text>
<defs><linearGradient id="cbg" x1="0" y1="0" x2="0" y2="1"><stop offset="0" stop-color="#F23E1C"/><stop offset="0.5" stop-color="#FFFFFF"/><stop offset="1" stop-color="#3A8EF0"/></linearGradient></defs>
<rect x="298.80" y="280.80" width="6.20" height="57.40" fill="url(#cbg)"/>
<rect x="298.80" y="280.80" width="6.20" height="57.40" fill="none" stroke="#222" stroke-width="0.9"/>
<line x1="305.00" y1="280.80" x2="308.20" y2="280.80" stroke="#222" stroke-width="0.9"/>
<text x="308.60" y="283.70" font-size="8.9" font-weight="normal" text-anchor="start" fill="#111">1</text>
<line x1="305.00" y1="295.15" x2="308.20" y2="295.15" stroke="#222" stroke-width="0.9"/>
<text x="308.60" y="298.05" font-size="8.9" font-weight="normal" text-anchor="start" fill="#111">0.5</text>
<line x1="305.00" y1="309.50" x2="308.20" y2="309.50" stroke="#222" stroke-width="0.9"/>
<text x="308.60" y="312.40" font-size="8.9" font-weight="normal" text-anchor="start" fill="#111">0</text>
<line x1="305.00" y1="323.85" x2="308.20" y2="323.85" stroke="#222" stroke-width="0.9"/>
<text x="308.60" y="326.75" font-size="8.9" font-weight="normal" text-anchor="start" fill="#111">-0.5</text>
<line x1="305.00" y1="338.20" x2="308.20" y2="338.20" stroke="#222" stroke-width="0.9"/>
<text x="308.60" y="341.10" font-size="8.9" font-weight="normal" text-anchor="start" fill="#111">-1</text>
<text x="36.40" y="543.80" font-size="11.8" font-weight="bold" text-anchor="start" fill="#000" transform="rotate(-22.5 36.40 543.80)">IFNγ</text>
<text x="62.40" y="545.30" font-size="11.8" font-weight="bold" text-anchor="start" fill="#000" transform="rotate(-22.5 62.40 545.30)">IFNα</text>
<text x="90.90" y="543.20" font-size="11.8" font-weight="bold" text-anchor="start" fill="#000" transform="rotate(-22.5 90.90 543.20)">WBC</text>
<text x="112.70" y="549.80" font-size="11.8" font-weight="bold" text-anchor="start" fill="#000" transform="rotate(-22.5 112.70 549.80)">Neu%</text>
<text x="133.90" y="553.00" font-size="11.8" font-weight="bold" text-anchor="start" fill="#000" transform="rotate(-22.5 133.90 553.00)">LYMPH%</text>
<text x="173.90" y="546.90" font-size="11.8" font-weight="bold" text-anchor="start" fill="#000" transform="rotate(-22.5 173.90 546.90)">Neu_N</text>
<text x="189.40" y="553.40" font-size="11.8" font-weight="bold" text-anchor="start" fill="#000" transform="rotate(-22.5 189.40 553.40)">LYMPH_N</text>
<text x="228.10" y="551.30" font-size="11.8" font-weight="bold" text-anchor="start" fill="#000" transform="rotate(-22.5 228.10 551.30)">Mono%</text>
<text x="267.90" y="549.30" font-size="11.8" font-weight="bold" text-anchor="start" fill="#000" transform="rotate(-19 267.90 549.30)">PBMC</text>
<text x="318.80" y="270.80" font-size="25" font-weight="bold" text-anchor="start" fill="#000">D</text>
<text x="524.00" y="276.40" font-size="12.2" font-weight="bold" text-anchor="middle" fill="#000">Trait-related genes</text>
<rect x="328.50" y="282.40" width="353.20" height="253.60" fill="none" stroke="#000" stroke-width="1.4"/>
<line x1="328.50" y1="297.70" x2="681.70" y2="297.70" stroke="#000" stroke-width="1.3"/>
<text x="336.40" y="294.40" font-size="11.2" font-weight="bold" text-anchor="start" fill="#000">Trait</text>
<text x="379.30" y="294.40" font-size="11.2" font-weight="bold" text-anchor="start" fill="#000">Module</text>
<text x="426.50" y="294.40" font-size="11.2" font-weight="bold" text-anchor="start" fill="#000">Overlap gene</text>
<text x="507.60" y="294.40" font-size="11.2" font-weight="bold" text-anchor="start" fill="#000">Pathway</text>
<text x="331.60" y="317.10" font-size="11.2" font-weight="bold" text-anchor="start" fill="#000">WBC</text>
<text x="388.50" y="317.10" font-size="11.2" font-weight="bold" text-anchor="start" fill="#000">M9,M15</text>
<text x="450.00" y="317.10" font-size="11.2" font-weight="bold" text-anchor="start" fill="#000">637</text>
<text x="330.60" y="356.30" font-size="11.2" font-weight="bold" text-anchor="start" fill="#000">LYMPH%</text>
<text x="330.60" y="368.60" font-size="11.2" font-weight="bold" text-anchor="start" fill="#000">LYMPH_N</text>
<text x="389.60" y="356.30" font-size="11.2" font-weight="bold" text-anchor="start" fill="#000">M8,M12,</text>
<text x="389.60" y="369.10" font-size="11.2" font-weight="bold" text-anchor="start" fill="#000">M13,M16</text>
<text x="450.70" y="361.20" font-size="11.2" font-weight="bold" text-anchor="start" fill="#000">576</text>
<text x="331.40" y="399.00" font-size="11.2" font-weight="bold" text-anchor="start" fill="#000">Mono%</text>
<text x="389.60" y="399.00" font-size="11.2" font-weight="bold" text-anchor="start" fill="#000">M14,M16</text>
<text x="450.70" y="399.00" font-size="11.2" font-weight="bold" text-anchor="start" fill="#000">232</text>
<text x="331.40" y="432.30" font-size="11.2" font-weight="bold" text-anchor="start" fill="#000">Neu%</text>
<text x="331.40" y="444.60" font-size="11.2" font-weight="bold" text-anchor="start" fill="#000">Neu_N</text>
<text x="387.60" y="431.80" font-size="11.2" font-weight="bold" text-anchor="start" fill="#000">M1,M2,</text>
<text x="387.60" y="445.50" font-size="11.2" font-weight="bold" text-anchor="start" fill="#000">M11</text>
<text x="450.70" y="432.60" font-size="11.2" font-weight="bold" text-anchor="start" fill="#000">796</text>
<text x="331.40" y="468.50" font-size="11.2" font-weight="bold" text-anchor="start" fill="#000">IFNα</text>
<text x="388.90" y="468.50" font-size="11.2" font-weight="bold" text-anchor="start" fill="#000">M13</text>
<text x="452.00" y="468.50" font-size="11.2" font-weight="bold" text-anchor="start" fill="#000">30</text>
<text x="331.40" y="490.80" font-size="11.2" font-weight="bold" text-anchor="start" fill="#000">IFNγ</text>
<text x="388.90" y="490.80" font-size="11.2" font-weight="bold" text-anchor="start" fill="#000">M7</text>
<text x="452.00" y="489.50" font-size="11.2" font-weight="bold" text-anchor="start" fill="#000">40</text>
<text x="331.40" y="522.20" font-size="11.2" font-weight="bold" text-anchor="start" fill="#000">Shared</text>
<text x="389.60" y="520.90" font-size="11.2" font-weight="bold" text-anchor="start" fill="#000">M4,M5,</text>
<text x="389.60" y="533.00" font-size="11.2" font-weight="bold" text-anchor="start" fill="#000">M6</text>
<text x="452.00" y="521.70" font-size="11.2" font-weight="bold" text-anchor="start" fill="#000">468</text>
<rect x="500.00" y="302.10" width="74.00" height="10.50" fill="#84CAB6"/>
<rect x="500.60" y="314.40" width="64.80" height="11.30" fill="#84CAB6"/>
<rect x="500.00" y="326.90" width="59.70" height="10.80" fill="#84CAB6"/>
<rect x="500.00" y="343.40" width="85.40" height="12.80" fill="#5D89C0"/>
<rect x="500.00" y="356.20" width="81.10" height="11.40" fill="#5D89C0"/>
<rect x="500.00" y="368.40" width="62.60" height="12.00" fill="#5D89C0"/>
<rect x="500.00" y="385.90" width="79.70" height="10.60" fill="#E05A68"/>
<rect x="500.00" y="397.60" width="54.90" height="10.30" fill="#E05A68"/>
<rect x="498.00" y="415.60" width="137.40" height="11.40" fill="#EE993F"/>
<rect x="498.00" y="427.00" width="77.40" height="11.40" fill="#EE993F"/>
<rect x="498.00" y="439.80" width="66.00" height="11.40" fill="#EE993F"/>
<rect x="498.50" y="458.90" width="52.70" height="10.20" fill="#62BA5E"/>
<rect x="499.80" y="480.40" width="48.00" height="10.40" fill="#DDC79E"/>
<rect x="499.80" y="498.30" width="61.90" height="11.00" fill="#A8745A"/>
<rect x="499.80" y="510.20" width="48.00" height="10.40" fill="#A8745A"/>
<rect x="500.80" y="521.80" width="46.10" height="9.80" fill="#A8745A"/>
<text x="501.00" y="311.40" font-size="9.8" font-weight="normal" text-anchor="start" fill="#151515" stroke="#151515" stroke-width="0.42" textLength="134.1" lengthAdjust="spacingAndGlyphs">T cell receptor signaling pathway</text>
<text x="502.80" y="324.20" font-size="9.8" font-weight="normal" text-anchor="start" fill="#151515" stroke="#151515" stroke-width="0.42" textLength="134.6" lengthAdjust="spacingAndGlyphs">B cell receptor signaling pathway</text>
<text x="502.00" y="336.10" font-size="9.8" font-weight="normal" text-anchor="start" fill="#151515" stroke="#151515" stroke-width="0.42" textLength="94.1" lengthAdjust="spacingAndGlyphs">NF-κβ signaling pathway</text>
<text x="500.80" y="354.60" font-size="10.4" font-weight="normal" text-anchor="start" fill="#151515" stroke="#151515" stroke-width="0.42" textLength="101.6" lengthAdjust="spacingAndGlyphs">Th17 cell differentiation</text>
<text x="501.00" y="366.00" font-size="10.4" font-weight="normal" text-anchor="start" fill="#151515" stroke="#151515" stroke-width="0.42" textLength="102.8" lengthAdjust="spacingAndGlyphs">IL-17 signaling pathway</text>
<text x="500.80" y="379.10" font-size="10.4" font-weight="normal" text-anchor="start" fill="#151515" stroke="#151515" stroke-width="0.42" textLength="167.1" lengthAdjust="spacingAndGlyphs">Cytokine-cytokine receptor interaction</text>
<text x="501.00" y="395.30" font-size="9.8" font-weight="normal" text-anchor="start" fill="#151515" stroke="#151515" stroke-width="0.42" textLength="115.1" lengthAdjust="spacingAndGlyphs">FcγR-mediated phagocytosis</text>
<text x="501.00" y="407.00" font-size="9.8" font-weight="normal" text-anchor="start" fill="#151515" stroke="#151515" stroke-width="0.42" textLength="131.0" lengthAdjust="spacingAndGlyphs">B cell receptor signaling pathway</text>
<text x="500.00" y="425.50" font-size="9.8" font-weight="normal" text-anchor="start" fill="#151515" stroke="#151515" stroke-width="0.42" textLength="96.0" lengthAdjust="spacingAndGlyphs">innate immune response</text>
<text x="500.00" y="437.40" font-size="9.8" font-weight="normal" text-anchor="start" fill="#151515" stroke="#151515" stroke-width="0.42" textLength="128.8" lengthAdjust="spacingAndGlyphs">TNF−mediated signaling pathway</text>
<text x="500.00" y="449.50" font-size="9.8" font-weight="normal" text-anchor="start" fill="#151515" stroke="#151515" stroke-width="0.42" textLength="135.0" lengthAdjust="spacingAndGlyphs">type I interferon signaling pathway</text>
<text x="500.00" y="467.80" font-size="9.8" font-weight="normal" text-anchor="start" fill="#151515" stroke="#151515" stroke-width="0.42" textLength="132.7" lengthAdjust="spacingAndGlyphs">T cell receptor signaling pathway</text>
<text x="500.00" y="488.90" font-size="9.8" font-weight="normal" text-anchor="start" fill="#151515" stroke="#151515" stroke-width="0.42" textLength="120.7" lengthAdjust="spacingAndGlyphs">FcγR−mediated phagocytosis</text>
<text x="500.00" y="508.50" font-size="9.8" font-weight="normal" text-anchor="start" fill="#151515" stroke="#151515" stroke-width="0.42" textLength="99.0" lengthAdjust="spacingAndGlyphs">Notch signaling pathway</text>
<text x="500.00" y="521.00" font-size="9.8" font-weight="normal" text-anchor="start" fill="#151515" stroke="#151515" stroke-width="0.42" textLength="70.4" lengthAdjust="spacingAndGlyphs">ABC transporters</text>
<text x="501.00" y="531.90" font-size="9.8" font-weight="normal" text-anchor="start" fill="#151515" stroke="#151515" stroke-width="0.42" textLength="37.4" lengthAdjust="spacingAndGlyphs">cell cycle</text>
<polygon points="490.60,342.40 492.38,347.15 497.45,347.38 493.48,350.53 494.83,355.42 490.60,352.62 486.37,355.42 487.72,350.53 483.75,347.38 488.82,347.15" fill="#CC3F22"/>
<polygon points="490.60,415.20 492.38,419.95 497.45,420.18 493.48,423.33 494.83,428.22 490.60,425.42 486.37,428.22 487.72,423.33 483.75,420.18 488.82,419.95" fill="#CC3F22"/>
<text x="504.80" y="548.80" font-size="11.3" font-weight="bold" text-anchor="middle" fill="#000">0</text>
<text x="541.40" y="548.80" font-size="11.3" font-weight="bold" text-anchor="middle" fill="#000">1</text>
<text x="579.70" y="548.80" font-size="11.3" font-weight="bold" text-anchor="middle" fill="#000">2</text>
<text x="616.20" y="548.80" font-size="11.3" font-weight="bold" text-anchor="middle" fill="#000">3</text>
<text x="650.60" y="548.80" font-size="11.3" font-weight="bold" text-anchor="middle" fill="#000">4</text>
<text x="681.10" y="552.20" font-size="11.3" font-weight="bold" text-anchor="middle" fill="#000">5</text>
<text x="602.00" y="559.60" font-size="11.3" font-weight="bold" text-anchor="middle" fill="#000">−log10(PDR)</text>
<text x="4.30" y="594.10" font-size="25.5" font-weight="bold" text-anchor="start" fill="#000">E</text>
<text x="84.60" y="606.90" font-size="15.2" font-weight="bold" text-anchor="middle" fill="#A83232">LYMPH%(M12)</text>
<line x1="55.90" y1="619.50" x2="90.30" y2="619.50" stroke="#C77B7B" stroke-width="0.7"/>
<line x1="55.90" y1="619.50" x2="118.40" y2="640.70" stroke="#C77B7B" stroke-width="0.7"/>
<line x1="55.90" y1="619.50" x2="129.00" y2="675.10" stroke="#C77B7B" stroke-width="0.7"/>
<line x1="55.90" y1="619.50" x2="27.70" y2="709.10" stroke="#C77B7B" stroke-width="0.7"/>
<line x1="55.90" y1="619.50" x2="27.70" y2="640.70" stroke="#C77B7B" stroke-width="0.7"/>
<line x1="90.30" y1="619.50" x2="27.70" y2="640.70" stroke="#C77B7B" stroke-width="0.7"/>
<line x1="90.30" y1="619.50" x2="17.20" y2="675.10" stroke="#C77B7B" stroke-width="0.7"/>
<line x1="90.30" y1="619.50" x2="118.40" y2="640.70" stroke="#C77B7B" stroke-width="0.7"/>
<line x1="90.30" y1="619.50" x2="129.00" y2="675.10" stroke="#C77B7B" stroke-width="0.7"/>
<line x1="90.30" y1="619.50" x2="55.90" y2="730.00" stroke="#C77B7B" stroke-width="0.7"/>
<line x1="27.70" y1="640.70" x2="118.40" y2="640.70" stroke="#C77B7B" stroke-width="0.7"/>
<line x1="27.70" y1="640.70" x2="55.90" y2="730.00" stroke="#C77B7B" stroke-width="0.7"/>
<line x1="27.70" y1="640.70" x2="118.40" y2="709.10" stroke="#C77B7B" stroke-width="0.7"/>
<line x1="27.70" y1="640.70" x2="90.30" y2="730.00" stroke="#C77B7B" stroke-width="0.7"/>
<line x1="27.70" y1="640.70" x2="17.20" y2="675.10" stroke="#C77B7B" stroke-width="0.7"/>
<line x1="118.40" y1="640.70" x2="129.00" y2="675.10" stroke="#C77B7B" stroke-width="0.7"/>
<line x1="118.40" y1="640.70" x2="55.90" y2="730.00" stroke="#C77B7B" stroke-width="0.7"/>
<line x1="118.40" y1="640.70" x2="90.30" y2="730.00" stroke="#C77B7B" stroke-width="0.7"/>
<line x1="17.20" y1="675.10" x2="27.70" y2="709.10" stroke="#C77B7B" stroke-width="0.7"/>
<line x1="17.20" y1="675.10" x2="55.90" y2="730.00" stroke="#C77B7B" stroke-width="0.7"/>
<line x1="17.20" y1="675.10" x2="90.30" y2="730.00" stroke="#C77B7B" stroke-width="0.7"/>
<line x1="17.20" y1="675.10" x2="118.40" y2="709.10" stroke="#C77B7B" stroke-width="0.7"/>
<line x1="129.00" y1="675.10" x2="118.40" y2="709.10" stroke="#C77B7B" stroke-width="0.7"/>
<line x1="129.00" y1="675.10" x2="27.70" y2="709.10" stroke="#C77B7B" stroke-width="0.7"/>
<line x1="129.00" y1="675.10" x2="55.90" y2="730.00" stroke="#C77B7B" stroke-width="0.7"/>
<line x1="129.00" y1="675.10" x2="90.30" y2="730.00" stroke="#C77B7B" stroke-width="0.7"/>
<line x1="27.70" y1="709.10" x2="55.90" y2="730.00" stroke="#C77B7B" stroke-width="0.7"/>
<line x1="27.70" y1="709.10" x2="90.30" y2="730.00" stroke="#C77B7B" stroke-width="0.7"/>
<line x1="118.40" y1="709.10" x2="55.90" y2="730.00" stroke="#C77B7B" stroke-width="0.7"/>
<line x1="118.40" y1="709.10" x2="90.30" y2="730.00" stroke="#C77B7B" stroke-width="0.7"/>
<line x1="55.90" y1="730.00" x2="90.30" y2="730.00" stroke="#C77B7B" stroke-width="0.7"/>
<circle cx="55.90" cy="619.50" r="1.9" fill="#9A1B1B"/>
<circle cx="90.30" cy="619.50" r="1.9" fill="#9A1B1B"/>
<circle cx="118.40" cy="640.70" r="1.9" fill="#9A1B1B"/>
<circle cx="129.00" cy="675.10" r="1.9" fill="#9A1B1B"/>
<circle cx="118.40" cy="709.10" r="1.9" fill="#9A1B1B"/>
<circle cx="90.30" cy="730.00" r="1.9" fill="#9A1B1B"/>
<circle cx="55.90" cy="730.00" r="1.9" fill="#9A1B1B"/>
<circle cx="27.70" cy="709.10" r="1.9" fill="#9A1B1B"/>
<circle cx="17.20" cy="675.10" r="1.9" fill="#9A1B1B"/>
<circle cx="27.70" cy="640.70" r="1.9" fill="#9A1B1B"/>
<text x="51.00" y="620.20" font-size="10.4" font-weight="bold" text-anchor="end" fill="#000">KLRD1</text>
<text x="93.90" y="620.20" font-size="10.4" font-weight="bold" text-anchor="start" fill="#000">CXCL8</text>
<text x="44.40" y="636.60" font-size="10.4" font-weight="bold" text-anchor="end" fill="#000">IL12RB2</text>
<text x="114.50" y="636.60" font-size="10.4" font-weight="bold" text-anchor="start" fill="#000">IL22</text>
<text x="28.00" y="670.90" font-size="10.4" font-weight="bold" text-anchor="end" fill="#000">CD28</text>
<text x="118.00" y="672.80" font-size="10.4" font-weight="bold" text-anchor="start" fill="#000">KLRG1</text>
<text x="33.40" y="705.50" font-size="10.4" font-weight="bold" text-anchor="end" fill="#000">CCR7</text>
<text x="109.80" y="706.70" font-size="10.4" font-weight="bold" text-anchor="start" fill="#000">PRKCB</text>
<text x="50.40" y="730.80" font-size="10.4" font-weight="bold" text-anchor="end" fill="#000">CD80</text>
<text x="93.40" y="733.10" font-size="10.4" font-weight="bold" text-anchor="start" fill="#000">FOXP3</text>
<text x="241.10" y="608.10" font-size="15.2" font-weight="bold" text-anchor="middle" fill="#A39548">Neu%(M2)</text>
<line x1="219.40" y1="621.90" x2="252.80" y2="621.90" stroke="#DAD6B4" stroke-width="0.8"/>
<line x1="219.40" y1="621.90" x2="192.70" y2="642.40" stroke="#DAD6B4" stroke-width="0.8"/>
<line x1="219.40" y1="621.90" x2="279.60" y2="642.40" stroke="#DAD6B4" stroke-width="0.8"/>
<line x1="219.40" y1="621.90" x2="289.70" y2="676.20" stroke="#DAD6B4" stroke-width="0.8"/>
<line x1="219.40" y1="621.90" x2="219.40" y2="729.90" stroke="#DAD6B4" stroke-width="0.8"/>
<line x1="219.40" y1="621.90" x2="252.80" y2="729.90" stroke="#DAD6B4" stroke-width="0.8"/>
<line x1="219.40" y1="621.90" x2="192.70" y2="709.60" stroke="#DAD6B4" stroke-width="0.8"/>
<line x1="252.80" y1="621.90" x2="279.60" y2="642.40" stroke="#DAD6B4" stroke-width="0.8"/>
<line x1="252.80" y1="621.90" x2="252.80" y2="729.90" stroke="#DAD6B4" stroke-width="0.8"/>
<line x1="252.80" y1="621.90" x2="279.60" y2="709.60" stroke="#DAD6B4" stroke-width="0.8"/>
<line x1="192.70" y1="642.40" x2="279.60" y2="642.40" stroke="#DAD6B4" stroke-width="0.8"/>
<line x1="192.70" y1="642.40" x2="192.70" y2="709.60" stroke="#DAD6B4" stroke-width="0.8"/>
<line x1="192.70" y1="642.40" x2="219.40" y2="729.90" stroke="#DAD6B4" stroke-width="0.8"/>
<line x1="192.70" y1="642.40" x2="252.80" y2="729.90" stroke="#DAD6B4" stroke-width="0.8"/>
<line x1="279.60" y1="642.40" x2="219.40" y2="729.90" stroke="#DAD6B4" stroke-width="0.8"/>
<line x1="279.60" y1="642.40" x2="279.60" y2="709.60" stroke="#DAD6B4" stroke-width="0.8"/>
<line x1="182.70" y1="676.20" x2="252.80" y2="729.90" stroke="#DAD6B4" stroke-width="0.8"/>
<line x1="182.70" y1="676.20" x2="192.70" y2="709.60" stroke="#DAD6B4" stroke-width="0.8"/>
<line x1="289.70" y1="676.20" x2="279.60" y2="709.60" stroke="#DAD6B4" stroke-width="0.8"/>
<line x1="192.70" y1="709.60" x2="219.40" y2="729.90" stroke="#DAD6B4" stroke-width="0.8"/>
<line x1="219.40" y1="729.90" x2="252.80" y2="729.90" stroke="#DAD6B4" stroke-width="0.8"/>
<line x1="219.40" y1="729.90" x2="279.60" y2="709.60" stroke="#DAD6B4" stroke-width="0.8"/>
<line x1="252.80" y1="729.90" x2="279.60" y2="709.60" stroke="#DAD6B4" stroke-width="0.8"/>
<circle cx="219.40" cy="621.90" r="2.3" fill="#A3944C"/>
<circle cx="252.80" cy="621.90" r="2.3" fill="#A3944C"/>
<circle cx="279.60" cy="642.40" r="2.3" fill="#A3944C"/>
<circle cx="289.70" cy="676.20" r="2.3" fill="#A3944C"/>
<circle cx="279.60" cy="709.60" r="2.3" fill="#A3944C"/>
<circle cx="252.80" cy="729.90" r="2.3" fill="#A3944C"/>
<circle cx="219.40" cy="729.90" r="2.3" fill="#A3944C"/>
<circle cx="192.70" cy="709.60" r="2.3" fill="#A3944C"/>
<circle cx="182.70" cy="676.20" r="2.3" fill="#A3944C"/>
<circle cx="192.70" cy="642.40" r="2.3" fill="#A3944C"/>
<text x="211.20" y="624.90" font-size="9.9" font-weight="bold" text-anchor="end" fill="#111">CXCR2</text>
<text x="260.30" y="624.90" font-size="9.9" font-weight="bold" text-anchor="start" fill="#111">RELA</text>
<text x="187.80" y="645.90" font-size="9.9" font-weight="bold" text-anchor="end" fill="#111">ITGAM</text>
<text x="282.70" y="644.30" font-size="9.9" font-weight="bold" text-anchor="start" fill="#B83232">IL18</text>
<text x="181.50" y="672.30" font-size="9.9" font-weight="bold" text-anchor="end" fill="#111">IL4R</text>
<text x="291.30" y="690.90" font-size="9.9" font-weight="bold" text-anchor="middle" fill="#111">NFKB2</text>
<text x="196.70" y="706.60" font-size="9.9" font-weight="bold" text-anchor="end" fill="#111">S100A8</text>
<text x="280.10" y="720.10" font-size="9.9" font-weight="bold" text-anchor="start" fill="#111">LY96</text>
<text x="218.90" y="742.80" font-size="9.9" font-weight="bold" text-anchor="middle" fill="#111">FAS</text>
<text x="257.10" y="742.10" font-size="9.9" font-weight="bold" text-anchor="middle" fill="#111">HCK</text>
<text x="308.20" y="588.20" font-size="26.5" font-weight="bold" text-anchor="start" fill="#000">F</text>
<polygon points="345.2,668.0 349.2,667.5 353.2,666.9 357.2,666.2 361.3,665.5 365.3,664.7 369.3,663.9 373.3,663.0 377.3,662.0 381.3,661.0 385.3,659.9 389.3,658.8 393.4,657.6 397.4,656.4 401.4,655.1 405.4,653.7 409.4,652.3 413.4,650.8 417.4,649.3 421.5,647.7 425.5,646.0 429.5,644.3 433.5,642.5 437.5,640.7 441.5,638.8 445.5,636.8 449.5,634.8 453.6,632.8 457.6,630.6 461.6,628.4 465.6,626.2 465.6,644.6 461.6,645.1 457.6,645.7 453.6,646.4 449.5,647.1 445.5,647.9 441.5,648.7 437.5,649.6 433.5,650.6 429.5,651.6 425.5,652.7 421.5,653.8 417.4,655.0 413.4,656.2 409.4,657.5 405.4,658.9 401.4,660.3 397.4,661.8 393.4,663.3 389.3,664.9 385.3,666.6 381.3,668.3 377.3,670.1 373.3,671.9 369.3,673.8 365.3,675.8 361.3,677.8 357.2,679.8 353.2,682.0 349.2,684.2 345.2,686.4" fill="#F2B8BC" fill-opacity="0.75"/>
<circle cx="347.92" cy="665.83" r="1.4" fill="#1010F2"/>
<circle cx="355.83" cy="670.92" r="1.4" fill="#1010F2"/>
<circle cx="357.05" cy="657.92" r="1.4" fill="#1010F2"/>
<circle cx="360.04" cy="655.64" r="1.4" fill="#1010F2"/>
<circle cx="360.92" cy="654.76" r="1.4" fill="#1010F2"/>
<circle cx="361.10" cy="664.07" r="1.4" fill="#1010F2"/>
<circle cx="367.07" cy="674.44" r="1.4" fill="#1010F2"/>
<circle cx="367.95" cy="659.50" r="1.4" fill="#1010F2"/>
<circle cx="369.70" cy="654.41" r="1.4" fill="#1010F2"/>
<circle cx="369.70" cy="668.82" r="1.4" fill="#1010F2"/>
<circle cx="370.76" cy="662.67" r="1.4" fill="#1010F2"/>
<circle cx="372.87" cy="643.34" r="1.4" fill="#1010F2"/>
<circle cx="372.34" cy="665.30" r="1.4" fill="#1010F2"/>
<circle cx="374.62" cy="670.22" r="1.4" fill="#1010F2"/>
<circle cx="375.15" cy="657.40" r="1.4" fill="#1010F2"/>
<circle cx="376.38" cy="644.22" r="1.4" fill="#1010F2"/>
<circle cx="376.73" cy="652.48" r="1.4" fill="#1010F2"/>
<circle cx="377.79" cy="675.84" r="1.4" fill="#1010F2"/>
<circle cx="378.49" cy="689.19" r="1.4" fill="#1010F2"/>
<circle cx="379.37" cy="666.18" r="1.4" fill="#1010F2"/>
<circle cx="380.25" cy="664.95" r="1.4" fill="#1010F2"/>
<circle cx="380.42" cy="673.21" r="1.4" fill="#1010F2"/>
<circle cx="381.30" cy="663.90" r="1.4" fill="#1010F2"/>
<circle cx="382.00" cy="654.76" r="1.4" fill="#1010F2"/>
<circle cx="382.53" cy="645.98" r="1.4" fill="#1010F2"/>
<circle cx="383.06" cy="654.41" r="1.4" fill="#1010F2"/>
<circle cx="383.41" cy="657.40" r="1.4" fill="#1010F2"/>
<circle cx="383.93" cy="640.35" r="1.4" fill="#1010F2"/>
<circle cx="384.81" cy="662.67" r="1.4" fill="#1010F2"/>
<circle cx="385.16" cy="655.64" r="1.4" fill="#1010F2"/>
<circle cx="386.04" cy="678.48" r="1.4" fill="#1010F2"/>
<circle cx="386.57" cy="653.88" r="1.4" fill="#1010F2"/>
<circle cx="387.27" cy="657.92" r="1.4" fill="#1010F2"/>
<circle cx="387.80" cy="651.25" r="1.4" fill="#1010F2"/>
<circle cx="388.33" cy="652.65" r="1.4" fill="#1010F2"/>
<circle cx="389.03" cy="650.90" r="1.4" fill="#1010F2"/>
<circle cx="389.56" cy="649.84" r="1.4" fill="#1010F2"/>
<circle cx="390.08" cy="662.67" r="1.4" fill="#1010F2"/>
<circle cx="390.43" cy="654.76" r="1.4" fill="#1010F2"/>
<circle cx="390.79" cy="665.30" r="1.4" fill="#1010F2"/>
<circle cx="391.31" cy="667.94" r="1.4" fill="#1010F2"/>
<circle cx="391.84" cy="648.61" r="1.4" fill="#1010F2"/>
<circle cx="392.19" cy="660.03" r="1.4" fill="#1010F2"/>
<circle cx="392.72" cy="638.07" r="1.4" fill="#1010F2"/>
<circle cx="393.07" cy="642.11" r="1.4" fill="#1010F2"/>
<circle cx="393.60" cy="655.11" r="1.4" fill="#1010F2"/>
<circle cx="393.95" cy="663.54" r="1.4" fill="#1010F2"/>
<circle cx="394.30" cy="667.06" r="1.4" fill="#1010F2"/>
<circle cx="395.00" cy="652.13" r="1.4" fill="#1010F2"/>
<circle cx="395.71" cy="645.10" r="1.4" fill="#1010F2"/>
<circle cx="395.71" cy="676.72" r="1.4" fill="#1010F2"/>
<circle cx="396.23" cy="646.85" r="1.4" fill="#1010F2"/>
<circle cx="396.58" cy="659.68" r="1.4" fill="#1010F2"/>
<circle cx="397.11" cy="639.83" r="1.4" fill="#1010F2"/>
<circle cx="397.46" cy="658.27" r="1.4" fill="#1010F2"/>
<circle cx="397.99" cy="665.30" r="1.4" fill="#1010F2"/>
<circle cx="398.34" cy="668.82" r="1.4" fill="#1010F2"/>
<circle cx="398.87" cy="654.76" r="1.4" fill="#1010F2"/>
<circle cx="399.22" cy="653.00" r="1.4" fill="#1010F2"/>
<circle cx="399.57" cy="656.52" r="1.4" fill="#1010F2"/>
<circle cx="400.62" cy="673.21" r="1.4" fill="#1010F2"/>
<circle cx="400.98" cy="658.27" r="1.4" fill="#1010F2"/>
<circle cx="402.73" cy="640.35" r="1.4" fill="#1010F2"/>
<circle cx="403.61" cy="673.21" r="1.4" fill="#1010F2"/>
<circle cx="403.96" cy="668.46" r="1.4" fill="#1010F2"/>
<circle cx="406.25" cy="656.52" r="1.4" fill="#1010F2"/>
<circle cx="407.13" cy="674.96" r="1.4" fill="#1010F2"/>
<circle cx="393.07" cy="715.37" r="1.4" fill="#1010F2"/>
<circle cx="448.40" cy="592.74" r="1.4" fill="#1010F2"/>
<circle cx="467.03" cy="615.76" r="1.4" fill="#1010F2"/>
<circle cx="423.98" cy="615.76" r="1.4" fill="#1010F2"/>
<circle cx="414.14" cy="626.66" r="1.4" fill="#1010F2"/>
<circle cx="422.22" cy="626.31" r="1.4" fill="#1010F2"/>
<circle cx="432.24" cy="624.55" r="1.4" fill="#1010F2"/>
<circle cx="433.99" cy="628.06" r="1.4" fill="#1010F2"/>
<circle cx="428.37" cy="628.77" r="1.4" fill="#1010F2"/>
<circle cx="447.70" cy="625.78" r="1.4" fill="#1010F2"/>
<circle cx="457.19" cy="629.47" r="1.4" fill="#1010F2"/>
<circle cx="415.02" cy="631.05" r="1.4" fill="#1010F2"/>
<circle cx="422.57" cy="633.33" r="1.4" fill="#1010F2"/>
<circle cx="427.84" cy="631.93" r="1.4" fill="#1010F2"/>
<circle cx="433.99" cy="634.04" r="1.4" fill="#1010F2"/>
<circle cx="443.66" cy="631.58" r="1.4" fill="#1010F2"/>
<circle cx="411.15" cy="634.04" r="1.4" fill="#1010F2"/>
<circle cx="437.16" cy="636.85" r="1.4" fill="#1010F2"/>
<circle cx="450.33" cy="635.79" r="1.4" fill="#1010F2"/>
<circle cx="457.71" cy="639.31" r="1.4" fill="#1010F2"/>
<circle cx="466.50" cy="638.08" r="1.4" fill="#1010F2"/>
<circle cx="423.45" cy="642.47" r="1.4" fill="#1010F2"/>
<circle cx="430.48" cy="643.35" r="1.4" fill="#1010F2"/>
<circle cx="433.11" cy="645.11" r="1.4" fill="#1010F2"/>
<circle cx="464.39" cy="643.88" r="1.4" fill="#1010F2"/>
<circle cx="411.68" cy="646.34" r="1.4" fill="#1010F2"/>
<circle cx="414.66" cy="648.62" r="1.4" fill="#1010F2"/>
<circle cx="422.22" cy="647.74" r="1.4" fill="#1010F2"/>
<circle cx="426.96" cy="649.50" r="1.4" fill="#1010F2"/>
<circle cx="428.37" cy="650.38" r="1.4" fill="#1010F2"/>
<circle cx="429.60" cy="651.26" r="1.4" fill="#1010F2"/>
<circle cx="431.01" cy="652.66" r="1.4" fill="#1010F2"/>
<circle cx="433.11" cy="649.50" r="1.4" fill="#1010F2"/>
<circle cx="434.87" cy="650.91" r="1.4" fill="#1010F2"/>
<circle cx="441.02" cy="648.09" r="1.4" fill="#1010F2"/>
<circle cx="443.31" cy="652.14" r="1.4" fill="#1010F2"/>
<circle cx="406.76" cy="653.89" r="1.4" fill="#1010F2"/>
<circle cx="406.41" cy="656.88" r="1.4" fill="#1010F2"/>
<circle cx="405.88" cy="658.29" r="1.4" fill="#1010F2"/>
<circle cx="409.92" cy="656.53" r="1.4" fill="#1010F2"/>
<circle cx="412.03" cy="657.41" r="1.4" fill="#1010F2"/>
<circle cx="415.54" cy="654.77" r="1.4" fill="#1010F2"/>
<circle cx="416.42" cy="659.16" r="1.4" fill="#1010F2"/>
<circle cx="419.06" cy="658.29" r="1.4" fill="#1010F2"/>
<circle cx="419.41" cy="661.45" r="1.4" fill="#1010F2"/>
<circle cx="413.79" cy="662.68" r="1.4" fill="#1010F2"/>
<circle cx="418.18" cy="663.91" r="1.4" fill="#1010F2"/>
<circle cx="419.94" cy="664.44" r="1.4" fill="#1010F2"/>
<circle cx="430.48" cy="656.88" r="1.4" fill="#1010F2"/>
<circle cx="431.36" cy="654.42" r="1.4" fill="#1010F2"/>
<circle cx="432.24" cy="660.40" r="1.4" fill="#1010F2"/>
<circle cx="427.49" cy="663.21" r="1.4" fill="#1010F2"/>
<circle cx="434.52" cy="666.19" r="1.4" fill="#1010F2"/>
<circle cx="413.79" cy="668.48" r="1.4" fill="#1010F2"/>
<circle cx="422.04" cy="669.18" r="1.4" fill="#1010F2"/>
<circle cx="456.84" cy="655.65" r="1.4" fill="#1010F2"/>
<circle cx="458.59" cy="655.30" r="1.4" fill="#1010F2"/>
<circle cx="459.12" cy="660.04" r="1.4" fill="#1010F2"/>
<circle cx="408.16" cy="674.10" r="1.4" fill="#1010F2"/>
<circle cx="407.64" cy="674.98" r="1.4" fill="#1010F2"/>
<circle cx="417.30" cy="676.74" r="1.4" fill="#1010F2"/>
<circle cx="418.71" cy="681.13" r="1.4" fill="#1010F2"/>
<circle cx="436.28" cy="676.74" r="1.4" fill="#1010F2"/>
<circle cx="447.17" cy="675.86" r="1.4" fill="#1010F2"/>
<line x1="345.20" y1="677.20" x2="465.60" y2="635.40" stroke="#F2261A" stroke-width="1.8"/>
<rect x="343.40" y="588.20" width="129.10" height="131.40" fill="none" stroke="#000" stroke-width="1.4"/>
<line x1="340.40" y1="707.00" x2="343.40" y2="707.00" stroke="#000" stroke-width="1.2"/>
<text x="339.60" y="711.00" font-size="11" font-weight="bold" text-anchor="end" fill="#000">0</text>
<line x1="340.40" y1="678.80" x2="343.40" y2="678.80" stroke="#000" stroke-width="1.2"/>
<text x="339.60" y="682.80" font-size="11" font-weight="bold" text-anchor="end" fill="#000">1</text>
<line x1="340.40" y1="650.60" x2="343.40" y2="650.60" stroke="#000" stroke-width="1.2"/>
<text x="339.60" y="654.60" font-size="11" font-weight="bold" text-anchor="end" fill="#000">2</text>
<line x1="340.40" y1="622.40" x2="343.40" y2="622.40" stroke="#000" stroke-width="1.2"/>
<text x="339.60" y="626.40" font-size="11" font-weight="bold" text-anchor="end" fill="#000">3</text>
<line x1="340.40" y1="594.20" x2="343.40" y2="594.20" stroke="#000" stroke-width="1.2"/>
<text x="339.60" y="598.20" font-size="11" font-weight="bold" text-anchor="end" fill="#000">4</text>
<line x1="353.90" y1="719.60" x2="353.90" y2="722.60" stroke="#000" stroke-width="1.2"/>
<text x="353.90" y="734.00" font-size="11" font-weight="bold" text-anchor="middle" fill="#000">10%</text>
<line x1="381.15" y1="719.60" x2="381.15" y2="722.60" stroke="#000" stroke-width="1.2"/>
<text x="381.15" y="734.00" font-size="11" font-weight="bold" text-anchor="middle" fill="#000">20%</text>
<line x1="408.40" y1="719.60" x2="408.40" y2="722.60" stroke="#000" stroke-width="1.2"/>
<text x="408.40" y="734.00" font-size="11" font-weight="bold" text-anchor="middle" fill="#000">30%</text>
<line x1="435.65" y1="719.60" x2="435.65" y2="722.60" stroke="#000" stroke-width="1.2"/>
<text x="435.65" y="734.00" font-size="11" font-weight="bold" text-anchor="middle" fill="#000">40%</text>
<line x1="462.90" y1="719.60" x2="462.90" y2="722.60" stroke="#000" stroke-width="1.2"/>
<text x="462.90" y="734.00" font-size="11" font-weight="bold" text-anchor="middle" fill="#000">50%</text>
<text x="414.30" y="748.20" font-size="11.1" font-weight="bold" text-anchor="middle" fill="#000">Neu% (scaled)</text>
<text x="330.00" y="645.00" font-size="12" font-weight="bold" text-anchor="middle" fill="#000" transform="rotate(-90 330.00 645.00)">IL18 log(TPM+1)</text>
<text x="347.80" y="602.20" font-size="11.6" font-weight="bold" text-anchor="start" fill="#921C1C">Cor: 0.35</text>
<text x="347.80" y="616.20" font-size="11.6" font-weight="bold" text-anchor="start" fill="#921C1C">P−value: 1.63E-09</text>
<rect x="519.60" y="585.20" width="161.70" height="131.70" fill="none" stroke="#000" stroke-width="1.4"/>
<line x1="516.60" y1="715.50" x2="519.60" y2="715.50" stroke="#000" stroke-width="1.2"/>
<text x="514.60" y="719.50" font-size="11" font-weight="bold" text-anchor="end" fill="#000">0</text>
<line x1="516.60" y1="675.60" x2="519.60" y2="675.60" stroke="#000" stroke-width="1.2"/>
<text x="514.60" y="679.60" font-size="11" font-weight="bold" text-anchor="end" fill="#000">2</text>
<line x1="516.60" y1="635.70" x2="519.60" y2="635.70" stroke="#000" stroke-width="1.2"/>
<text x="514.60" y="639.70" font-size="11" font-weight="bold" text-anchor="end" fill="#000">4</text>
<line x1="516.60" y1="595.80" x2="519.60" y2="595.80" stroke="#000" stroke-width="1.2"/>
<text x="514.60" y="599.80" font-size="11" font-weight="bold" text-anchor="end" fill="#000">6</text>
<text x="498.30" y="643.70" font-size="12" font-weight="bold" text-anchor="middle" fill="#000" transform="rotate(-90 498.30 643.70)">IL18 log(TPM+1)</text>
<text x="672.20" y="607.90" font-size="12" font-weight="bold" text-anchor="end" fill="#961F1F">TAU=0.89</text>
<line x1="532.70" y1="690.70" x2="532.70" y2="692.00" stroke="#F26B35" stroke-width="1.6"/>
<line x1="532.70" y1="709.30" x2="532.70" y2="714.30" stroke="#F26B35" stroke-width="1.6"/>
<rect x="523.70" y="692.00" width="18.10" height="17.30" fill="#fff" stroke="#F26B35" stroke-width="1.9"/>
<line x1="523.70" y1="700.60" x2="541.80" y2="700.60" stroke="#F26B35" stroke-width="1.7"/>
<circle cx="532.40" cy="692.00" r="2.6" fill="#F26B35"/>
<circle cx="533.60" cy="695.70" r="2.6" fill="#F26B35"/>
<circle cx="529.90" cy="700.60" r="2.6" fill="#F26B35"/>
<circle cx="536.10" cy="700.60" r="2.6" fill="#F26B35"/>
<circle cx="538.60" cy="701.90" r="2.6" fill="#F26B35"/>
<circle cx="531.10" cy="704.40" r="2.6" fill="#F26B35"/>
<circle cx="534.90" cy="705.60" r="2.6" fill="#F26B35"/>
<circle cx="537.30" cy="706.80" r="2.6" fill="#F26B35"/>
<circle cx="534.90" cy="713.00" r="2.6" fill="#F26B35"/>
<line x1="559.00" y1="696.90" x2="559.00" y2="699.90" stroke="#F0C2B9" stroke-width="1.6"/>
<line x1="559.00" y1="711.80" x2="559.00" y2="715.50" stroke="#F0C2B9" stroke-width="1.6"/>
<rect x="550.50" y="699.90" width="17.10" height="11.90" fill="#fff" stroke="#F0C2B9" stroke-width="1.9"/>
<line x1="550.50" y1="705.60" x2="567.60" y2="705.60" stroke="#F0C2B9" stroke-width="1.7"/>
<circle cx="559.70" cy="699.40" r="2.6" fill="#F0C2B9"/>
<circle cx="555.90" cy="706.80" r="2.6" fill="#F0C2B9"/>
<circle cx="560.90" cy="706.80" r="2.6" fill="#F0C2B9"/>
<circle cx="558.40" cy="710.60" r="2.6" fill="#F0C2B9"/>
<circle cx="559.70" cy="714.30" r="2.6" fill="#F0C2B9"/>
<line x1="586.50" y1="685.00" x2="586.50" y2="692.50" stroke="#C8F2A2" stroke-width="1.6"/>
<line x1="586.50" y1="709.30" x2="586.50" y2="712.30" stroke="#C8F2A2" stroke-width="1.6"/>
<rect x="577.50" y="692.50" width="18.10" height="16.80" fill="#fff" stroke="#C8F2A2" stroke-width="1.9"/>
<line x1="577.50" y1="700.60" x2="595.60" y2="700.60" stroke="#C8F2A2" stroke-width="1.7"/>
<circle cx="585.70" cy="686.50" r="2.6" fill="#C8F2A2"/>
<circle cx="587.00" cy="689.50" r="2.6" fill="#C8F2A2"/>
<circle cx="582.00" cy="699.40" r="2.6" fill="#C8F2A2"/>
<circle cx="588.20" cy="699.90" r="2.6" fill="#C8F2A2"/>
<circle cx="585.70" cy="703.10" r="2.6" fill="#C8F2A2"/>
<circle cx="584.00" cy="706.80" r="2.6" fill="#C8F2A2"/>
<circle cx="587.00" cy="710.60" r="2.6" fill="#C8F2A2"/>
<line x1="614.90" y1="687.00" x2="614.90" y2="694.00" stroke="#88D9A6" stroke-width="1.6"/>
<line x1="614.90" y1="706.80" x2="614.90" y2="709.30" stroke="#88D9A6" stroke-width="1.6"/>
<rect x="605.60" y="694.00" width="18.60" height="12.80" fill="#fff" stroke="#88D9A6" stroke-width="1.9"/>
<line x1="605.60" y1="701.90" x2="624.20" y2="701.90" stroke="#88D9A6" stroke-width="1.7"/>
<circle cx="614.80" cy="689.50" r="2.6" fill="#88D9A6"/>
<circle cx="614.30" cy="694.40" r="2.6" fill="#88D9A6"/>
<circle cx="611.80" cy="699.40" r="2.6" fill="#88D9A6"/>
<circle cx="616.70" cy="699.40" r="2.6" fill="#88D9A6"/>
<circle cx="615.50" cy="704.40" r="2.6" fill="#88D9A6"/>
<circle cx="613.80" cy="706.80" r="2.6" fill="#88D9A6"/>
<line x1="639.70" y1="678.30" x2="639.70" y2="683.30" stroke="#9A8FD2" stroke-width="1.6"/>
<line x1="639.70" y1="708.10" x2="639.70" y2="709.30" stroke="#9A8FD2" stroke-width="1.6"/>
<rect x="630.40" y="683.30" width="18.60" height="24.80" fill="#fff" stroke="#9A8FD2" stroke-width="1.9"/>
<line x1="630.40" y1="698.20" x2="649.00" y2="698.20" stroke="#9A8FD2" stroke-width="1.7"/>
<circle cx="639.60" cy="679.60" r="2.6" fill="#9A8FD2"/>
<circle cx="639.10" cy="692.00" r="2.6" fill="#9A8FD2"/>
<circle cx="636.60" cy="698.20" r="2.6" fill="#9A8FD2"/>
<circle cx="641.60" cy="697.40" r="2.6" fill="#9A8FD2"/>
<circle cx="639.60" cy="704.90" r="2.6" fill="#9A8FD2"/>
<line x1="660.80" y1="629.40" x2="660.80" y2="635.40" stroke="#DB9470" stroke-width="1.6"/>
<line x1="660.80" y1="657.20" x2="660.80" y2="664.70" stroke="#DB9470" stroke-width="1.6"/>
<rect x="651.50" y="635.40" width="18.60" height="21.80" fill="#fff" stroke="#DB9470" stroke-width="1.9"/>
<line x1="651.50" y1="645.60" x2="670.10" y2="645.60" stroke="#DB9470" stroke-width="1.7"/>
<circle cx="660.70" cy="631.20" r="2.6" fill="#DB9470"/>
<circle cx="660.20" cy="634.90" r="2.6" fill="#DB9470"/>
<circle cx="658.40" cy="637.90" r="2.6" fill="#DB9470"/>
<circle cx="663.90" cy="644.80" r="2.6" fill="#DB9470"/>
<circle cx="666.40" cy="646.10" r="2.6" fill="#DB9470"/>
<circle cx="658.90" cy="647.30" r="2.6" fill="#DB9470"/>
<circle cx="661.90" cy="646.10" r="2.6" fill="#DB9470"/>
<circle cx="657.70" cy="652.30" r="2.6" fill="#DB9470"/>
<circle cx="662.60" cy="651.80" r="2.6" fill="#DB9470"/>
<circle cx="660.20" cy="654.70" r="2.6" fill="#DB9470"/>
<circle cx="661.40" cy="659.70" r="2.6" fill="#DB9470"/>
<line x1="534.10" y1="716.90" x2="534.10" y2="719.90" stroke="#000" stroke-width="1.2"/>
<text x="541.60" y="730.00" font-size="12.2" font-weight="bold" text-anchor="end" fill="#000" transform="rotate(-30 541.60 730.00)">T cell</text>
<line x1="559.70" y1="716.90" x2="559.70" y2="719.90" stroke="#000" stroke-width="1.2"/>
<text x="567.20" y="730.00" font-size="12.2" font-weight="bold" text-anchor="end" fill="#000" transform="rotate(-30 567.20 730.00)">B cell</text>
<line x1="586.80" y1="716.90" x2="586.80" y2="719.90" stroke="#000" stroke-width="1.2"/>
<text x="594.30" y="730.00" font-size="12.2" font-weight="bold" text-anchor="end" fill="#000" transform="rotate(-30 594.30 730.00)">cDC</text>
<line x1="611.00" y1="716.90" x2="611.00" y2="719.90" stroke="#000" stroke-width="1.2"/>
<text x="618.50" y="730.00" font-size="12.2" font-weight="bold" text-anchor="end" fill="#000" transform="rotate(-30 618.50 730.00)">pDC</text>
<line x1="635.20" y1="716.90" x2="635.20" y2="719.90" stroke="#000" stroke-width="1.2"/>
<text x="642.70" y="730.00" font-size="12.2" font-weight="bold" text-anchor="end" fill="#000" transform="rotate(-30 642.70 730.00)">Mono</text>
<line x1="659.40" y1="716.90" x2="659.40" y2="719.90" stroke="#000" stroke-width="1.2"/>
<text x="666.90" y="730.00" font-size="12.2" font-weight="bold" text-anchor="end" fill="#000" transform="rotate(-30 666.90 730.00)">Neu</text>
</svg>
</body></html>
